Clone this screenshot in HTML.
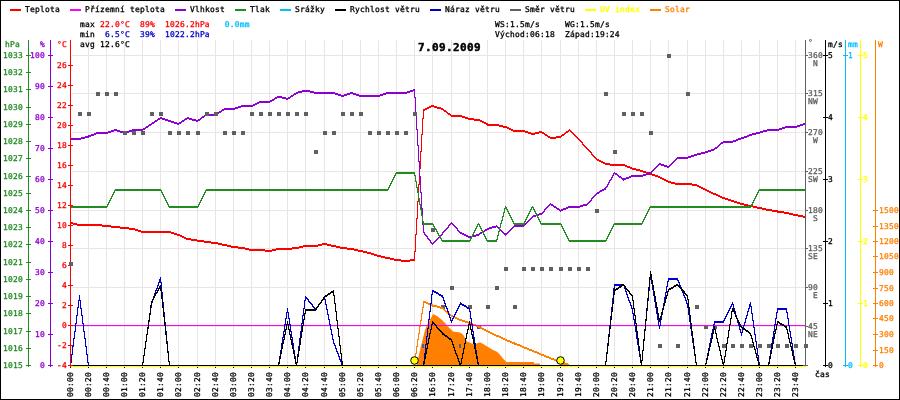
<!DOCTYPE html>
<html><head><meta charset="utf-8"><title>7.09.2009</title>
<style>html,body{margin:0;padding:0;background:#fff;}svg{display:block;will-change:transform}</style>
</head><body>
<svg width="900" height="400" viewBox="0 0 900 400">
<rect x="0" y="0" width="900" height="400" fill="#fff"/>
<g shape-rendering="crispEdges">
<rect x="88" y="40" width="1" height="325" fill="#ebe4e4"/>
<rect x="106" y="40" width="1" height="325" fill="#ebe4e4"/>
<rect x="124" y="40" width="1" height="325" fill="#ebe4e4"/>
<rect x="142" y="40" width="1" height="325" fill="#ebe4e4"/>
<rect x="160" y="40" width="1" height="325" fill="#ebe4e4"/>
<rect x="178" y="40" width="1" height="325" fill="#ebe4e4"/>
<rect x="197" y="40" width="1" height="325" fill="#ebe4e4"/>
<rect x="215" y="40" width="1" height="325" fill="#ebe4e4"/>
<rect x="233" y="40" width="1" height="325" fill="#ebe4e4"/>
<rect x="251" y="40" width="1" height="325" fill="#ebe4e4"/>
<rect x="269" y="40" width="1" height="325" fill="#ebe4e4"/>
<rect x="287" y="40" width="1" height="325" fill="#ebe4e4"/>
<rect x="305" y="40" width="1" height="325" fill="#ebe4e4"/>
<rect x="324" y="40" width="1" height="325" fill="#ebe4e4"/>
<rect x="342" y="40" width="1" height="325" fill="#ebe4e4"/>
<rect x="360" y="40" width="1" height="325" fill="#ebe4e4"/>
<rect x="378" y="40" width="1" height="325" fill="#ebe4e4"/>
<rect x="396" y="40" width="1" height="325" fill="#ebe4e4"/>
<rect x="414" y="40" width="1" height="325" fill="#ebe4e4"/>
<rect x="432" y="40" width="1" height="325" fill="#ebe4e4"/>
<rect x="451" y="40" width="1" height="325" fill="#ebe4e4"/>
<rect x="469" y="40" width="1" height="325" fill="#ebe4e4"/>
<rect x="487" y="40" width="1" height="325" fill="#ebe4e4"/>
<rect x="505" y="40" width="1" height="325" fill="#ebe4e4"/>
<rect x="523" y="40" width="1" height="325" fill="#ebe4e4"/>
<rect x="541" y="40" width="1" height="325" fill="#ebe4e4"/>
<rect x="560" y="40" width="1" height="325" fill="#ebe4e4"/>
<rect x="578" y="40" width="1" height="325" fill="#ebe4e4"/>
<rect x="596" y="40" width="1" height="325" fill="#ebe4e4"/>
<rect x="614" y="40" width="1" height="325" fill="#ebe4e4"/>
<rect x="632" y="40" width="1" height="325" fill="#ebe4e4"/>
<rect x="650" y="40" width="1" height="325" fill="#ebe4e4"/>
<rect x="668" y="40" width="1" height="325" fill="#ebe4e4"/>
<rect x="687" y="40" width="1" height="325" fill="#ebe4e4"/>
<rect x="705" y="40" width="1" height="325" fill="#ebe4e4"/>
<rect x="723" y="40" width="1" height="325" fill="#ebe4e4"/>
<rect x="741" y="40" width="1" height="325" fill="#ebe4e4"/>
<rect x="759" y="40" width="1" height="325" fill="#ebe4e4"/>
<rect x="777" y="40" width="1" height="325" fill="#ebe4e4"/>
<rect x="795" y="40" width="1" height="325" fill="#ebe4e4"/>
<rect x="72" y="55" width="733" height="1" fill="#ebe4e4"/>
<rect x="72" y="93" width="733" height="1" fill="#ebe4e4"/>
<rect x="72" y="132" width="733" height="1" fill="#ebe4e4"/>
<rect x="72" y="171" width="733" height="1" fill="#ebe4e4"/>
<rect x="72" y="210" width="733" height="1" fill="#ebe4e4"/>
<rect x="72" y="248" width="733" height="1" fill="#ebe4e4"/>
<rect x="72" y="287" width="733" height="1" fill="#ebe4e4"/>
<rect x="72" y="326" width="733" height="1" fill="#ebe4e4"/>
</g>
<polygon points="416.5,365.5 420.5,348 423,338 425,330 428,323 431,318 433,314 437,316 442,320 446,324 448,326.6 451,329.6 453,331.4 460,332.6 463,334.4 465,338 467,341.6 470,342.8 473,344 477,343.4 480,342.2 484,344.6 488,347 493,350 497,351.8 500,354.8 503,358.4 506,361.4 506,362 534,362 534,363.5 540,363.5 540,365.5" fill="#ff8000"/>
<polygon points="561,365 562,363.5 568,363.5 569,365" fill="#ff8000"/>
<path d="M70.5,222 79.5,224 79.5,225 70.5,223ZM70.5,223 79.5,225 79.5,226 70.5,224ZM79.5,224 88.5,224 88.5,225 79.5,225ZM79.5,225 88.5,225 88.5,226 79.5,226ZM88.5,224 97.5,224 97.5,225 88.5,225ZM88.5,225 97.5,225 97.5,226 88.5,226ZM97.5,224 106.5,225 106.5,226 97.5,225ZM97.5,225 106.5,226 106.5,227 97.5,226ZM106.5,225 115.5,226 115.5,227 106.5,226ZM106.5,226 115.5,227 115.5,228 106.5,227ZM115.5,226 124.5,227 124.5,228 115.5,227ZM115.5,227 124.5,228 124.5,229 115.5,228ZM124.5,227 133.5,228 133.5,229 124.5,228ZM124.5,228 133.5,229 133.5,230 124.5,229ZM133.5,228 142.5,231 142.5,232 133.5,229ZM133.5,229 142.5,232 142.5,233 133.5,230ZM142.5,231 151.5,231 151.5,232 142.5,232ZM142.5,232 151.5,232 151.5,233 142.5,233ZM151.5,231 160.5,231 160.5,232 151.5,232ZM151.5,232 160.5,232 160.5,233 151.5,233ZM160.5,231 169.5,231 169.5,232 160.5,232ZM160.5,232 169.5,232 169.5,233 160.5,233ZM169.5,231 178.5,234 178.5,235 169.5,232ZM169.5,232 178.5,235 178.5,236 169.5,233ZM178.5,234 187.5,238 187.5,239 178.5,235ZM178.5,235 187.5,239 187.5,240 178.5,236ZM187.5,238 197.5,239.5 197.5,240.5 187.5,239ZM187.5,239 197.5,240.5 197.5,241.5 187.5,240ZM197.5,239.5 206.5,241 206.5,242 197.5,240.5ZM197.5,240.5 206.5,242 206.5,243 197.5,241.5ZM206.5,241 215.5,242 215.5,243 206.5,242ZM206.5,242 215.5,243 215.5,244 206.5,243ZM215.5,242 224.5,244 224.5,245 215.5,243ZM215.5,243 224.5,245 224.5,246 215.5,244ZM224.5,244 233.5,246 233.5,247 224.5,245ZM224.5,245 233.5,247 233.5,248 224.5,246ZM233.5,246 242.5,247 242.5,248 233.5,247ZM233.5,247 242.5,248 242.5,249 233.5,248ZM242.5,247 251.5,249 251.5,250 242.5,248ZM242.5,248 251.5,250 251.5,251 242.5,249ZM251.5,249 260.5,249 260.5,250 251.5,250ZM251.5,250 260.5,250 260.5,251 251.5,251ZM260.5,249 269.5,250 269.5,251 260.5,250ZM260.5,250 269.5,251 269.5,252 260.5,251ZM269.5,250 278.5,248 278.5,249 269.5,251ZM269.5,251 278.5,249 278.5,250 269.5,252ZM278.5,248 287.5,248 287.5,249 278.5,249ZM278.5,249 287.5,249 287.5,250 278.5,250ZM287.5,248 296.5,247 296.5,248 287.5,249ZM287.5,249 296.5,248 296.5,249 287.5,250ZM296.5,247 305.5,245 305.5,246 296.5,248ZM296.5,248 305.5,246 305.5,247 296.5,249ZM305.5,245 315.5,245 315.5,246 305.5,246ZM305.5,246 315.5,246 315.5,247 305.5,247ZM315.5,245 324.5,243 324.5,244 315.5,246ZM315.5,246 324.5,244 324.5,245 315.5,247ZM324.5,243 333.5,245 333.5,246 324.5,244ZM324.5,244 333.5,246 333.5,247 324.5,245ZM333.5,245 342.5,247 342.5,248 333.5,246ZM333.5,246 342.5,248 342.5,249 333.5,247ZM342.5,247 351.5,248 351.5,249 342.5,248ZM342.5,248 351.5,249 351.5,250 342.5,249ZM351.5,248 360.5,250 360.5,251 351.5,249ZM351.5,249 360.5,251 360.5,252 351.5,250ZM360.5,250 369.5,252 369.5,253 360.5,251ZM360.5,251 369.5,253 369.5,254 360.5,252ZM369.5,252 378.5,255 378.5,256 369.5,253ZM369.5,253 378.5,256 378.5,257 369.5,254ZM378.5,255 387.5,257 387.5,258 378.5,256ZM378.5,256 387.5,258 387.5,259 378.5,257ZM387.5,257 396.5,259 396.5,260 387.5,258ZM387.5,258 396.5,260 396.5,261 387.5,259ZM396.5,259 405.5,260 405.5,261 396.5,260ZM396.5,260 405.5,261 405.5,262 396.5,261ZM405.5,260 414.5,259 414.5,260 405.5,261ZM405.5,261 414.5,260 414.5,261 405.5,262ZM414,259.5 423,109.5 424,109.5 415,259.5ZM414,260.5 423,110.5 424,110.5 415,260.5ZM423.5,109 432.5,105 432.5,106 423.5,110ZM423.5,110 432.5,106 432.5,107 423.5,111ZM432.5,105 442.5,108 442.5,109 432.5,106ZM432.5,106 442.5,109 442.5,110 432.5,107ZM442.5,108 451.5,115 451.5,116 442.5,109ZM442.5,109 451.5,116 451.5,117 442.5,110ZM451.5,115 460.5,115 460.5,116 451.5,116ZM451.5,116 460.5,116 460.5,117 451.5,117ZM460.5,115 469.5,118 469.5,119 460.5,116ZM460.5,116 469.5,119 469.5,120 460.5,117ZM469.5,118 478.5,119 478.5,120 469.5,119ZM469.5,119 478.5,120 478.5,121 469.5,120ZM478.5,119 487.5,123.5 487.5,124.5 478.5,120ZM478.5,120 487.5,124.5 487.5,125.5 478.5,121ZM487.5,123.5 496.5,124 496.5,125 487.5,124.5ZM487.5,124.5 496.5,125 496.5,126 487.5,125.5ZM496.5,124 505.5,126 505.5,127 496.5,125ZM496.5,125 505.5,127 505.5,128 496.5,126ZM505.5,126 514.5,130 514.5,131 505.5,127ZM505.5,127 514.5,131 514.5,132 505.5,128ZM514.5,130 523.5,130 523.5,131 514.5,131ZM514.5,131 523.5,131 523.5,132 514.5,132ZM523.5,130 532.5,133 532.5,134 523.5,131ZM523.5,131 532.5,134 532.5,135 523.5,132ZM532.5,133 541.5,131 541.5,132 532.5,134ZM532.5,134 541.5,132 541.5,133 532.5,135ZM541.5,131 550.5,137 550.5,138 541.5,132ZM541.5,132 550.5,138 550.5,139 541.5,133ZM550.5,137 560.5,136 560.5,137 550.5,138ZM550.5,138 560.5,137 560.5,138 550.5,139ZM560.5,136 569.5,129 569.5,130 560.5,137ZM560.5,137 569.5,130 569.5,131 560.5,138ZM569.5,129 578.5,138 578.5,139 569.5,130ZM569.5,130 578.5,139 578.5,140 569.5,131ZM579,138.5 588,148.5 587,148.5 578,138.5ZM579,139.5 588,149.5 587,149.5 578,139.5ZM588,148.5 597,158.5 596,158.5 587,148.5ZM588,149.5 597,159.5 596,159.5 587,149.5ZM596.5,158 605.5,163 605.5,164 596.5,159ZM596.5,159 605.5,164 605.5,165 596.5,160ZM605.5,163 614.5,164 614.5,165 605.5,164ZM605.5,164 614.5,165 614.5,166 605.5,165ZM614.5,164 623.5,164 623.5,165 614.5,165ZM614.5,165 623.5,165 623.5,166 614.5,166ZM623.5,164 632.5,167.5 632.5,168.5 623.5,165ZM623.5,165 632.5,168.5 632.5,169.5 623.5,166ZM632.5,167.5 641.5,170 641.5,171 632.5,168.5ZM632.5,168.5 641.5,171 641.5,172 632.5,169.5ZM641.5,170 650.5,173 650.5,174 641.5,171ZM641.5,171 650.5,174 650.5,175 641.5,172ZM650.5,173 659.5,176 659.5,177 650.5,174ZM650.5,174 659.5,177 659.5,178 650.5,175ZM659.5,176 668.5,181 668.5,182 659.5,177ZM659.5,177 668.5,182 668.5,183 659.5,178ZM668.5,181 677.5,183 677.5,184 668.5,182ZM668.5,182 677.5,184 677.5,185 668.5,183ZM677.5,183 687.5,183 687.5,184 677.5,184ZM677.5,184 687.5,184 687.5,185 677.5,185ZM687.5,183 696.5,184 696.5,185 687.5,184ZM687.5,184 696.5,185 696.5,186 687.5,185ZM696.5,184 705.5,189 705.5,190 696.5,185ZM696.5,185 705.5,190 705.5,191 696.5,186ZM705.5,189 714.5,193 714.5,194 705.5,190ZM705.5,190 714.5,194 714.5,195 705.5,191ZM714.5,193 723.5,197 723.5,198 714.5,194ZM714.5,194 723.5,198 723.5,199 714.5,195ZM723.5,197 732.5,200 732.5,201 723.5,198ZM723.5,198 732.5,201 732.5,202 723.5,199ZM732.5,200 741.5,203 741.5,204 732.5,201ZM732.5,201 741.5,204 741.5,205 732.5,202ZM741.5,203 750.5,205 750.5,206 741.5,204ZM741.5,204 750.5,206 750.5,207 741.5,205ZM750.5,205 759.5,207 759.5,208 750.5,206ZM750.5,206 759.5,208 759.5,209 750.5,207ZM759.5,207 768.5,209 768.5,210 759.5,208ZM759.5,208 768.5,210 768.5,211 759.5,209ZM768.5,209 777.5,210.5 777.5,211.5 768.5,210ZM768.5,210 777.5,211.5 777.5,212.5 768.5,211ZM777.5,210.5 786.5,212 786.5,213 777.5,211.5ZM777.5,211.5 786.5,213 786.5,214 777.5,212.5ZM786.5,212 795.5,214 795.5,215 786.5,213ZM786.5,213 795.5,215 795.5,216 786.5,214ZM795.5,214 805.5,216 805.5,217 795.5,215ZM795.5,215 805.5,217 805.5,218 795.5,216ZM70,222 71,222 71,224 70,224ZM79,224 80,224 80,226 79,226ZM88,224 89,224 89,226 88,226ZM97,224 98,224 98,226 97,226ZM106,225 107,225 107,227 106,227ZM115,226 116,226 116,228 115,228ZM124,227 125,227 125,229 124,229ZM133,228 134,228 134,230 133,230ZM142,231 143,231 143,233 142,233ZM151,231 152,231 152,233 151,233ZM160,231 161,231 161,233 160,233ZM169,231 170,231 170,233 169,233ZM178,234 179,234 179,236 178,236ZM187,238 188,238 188,240 187,240ZM197,239.5 198,239.5 198,241.5 197,241.5ZM206,241 207,241 207,243 206,243ZM215,242 216,242 216,244 215,244ZM224,244 225,244 225,246 224,246ZM233,246 234,246 234,248 233,248ZM242,247 243,247 243,249 242,249ZM251,249 252,249 252,251 251,251ZM260,249 261,249 261,251 260,251ZM269,250 270,250 270,252 269,252ZM278,248 279,248 279,250 278,250ZM287,248 288,248 288,250 287,250ZM296,247 297,247 297,249 296,249ZM305,245 306,245 306,247 305,247ZM315,245 316,245 316,247 315,247ZM324,243 325,243 325,245 324,245ZM333,245 334,245 334,247 333,247ZM342,247 343,247 343,249 342,249ZM351,248 352,248 352,250 351,250ZM360,250 361,250 361,252 360,252ZM369,252 370,252 370,254 369,254ZM378,255 379,255 379,257 378,257ZM387,257 388,257 388,259 387,259ZM396,259 397,259 397,261 396,261ZM405,260 406,260 406,262 405,262ZM414,259 415,259 415,261 414,261ZM423,109 424,109 424,111 423,111ZM432,105 433,105 433,107 432,107ZM442,108 443,108 443,110 442,110ZM451,115 452,115 452,117 451,117ZM460,115 461,115 461,117 460,117ZM469,118 470,118 470,120 469,120ZM478,119 479,119 479,121 478,121ZM487,123.5 488,123.5 488,125.5 487,125.5ZM496,124 497,124 497,126 496,126ZM505,126 506,126 506,128 505,128ZM514,130 515,130 515,132 514,132ZM523,130 524,130 524,132 523,132ZM532,133 533,133 533,135 532,135ZM541,131 542,131 542,133 541,133ZM550,137 551,137 551,139 550,139ZM560,136 561,136 561,138 560,138ZM569,129 570,129 570,131 569,131ZM578,138 579,138 579,140 578,140ZM587,148 588,148 588,150 587,150ZM596,158 597,158 597,160 596,160ZM605,163 606,163 606,165 605,165ZM614,164 615,164 615,166 614,166ZM623,164 624,164 624,166 623,166ZM632,167.5 633,167.5 633,169.5 632,169.5ZM641,170 642,170 642,172 641,172ZM650,173 651,173 651,175 650,175ZM659,176 660,176 660,178 659,178ZM668,181 669,181 669,183 668,183ZM677,183 678,183 678,185 677,185ZM687,183 688,183 688,185 687,185ZM696,184 697,184 697,186 696,186ZM705,189 706,189 706,191 705,191ZM714,193 715,193 715,195 714,195ZM723,197 724,197 724,199 723,199ZM732,200 733,200 733,202 732,202ZM741,203 742,203 742,205 741,205ZM750,205 751,205 751,207 750,207ZM759,207 760,207 760,209 759,209ZM768,209 769,209 769,211 768,211ZM777,210.5 778,210.5 778,212.5 777,212.5ZM786,212 787,212 787,214 786,214ZM795,214 796,214 796,216 795,216ZM805,216 806,216 806,218 805,218Z" fill="#ff0000" shape-rendering="crispEdges"/>
<path d="M70.5,138 79.5,138 79.5,139 70.5,139ZM70.5,139 79.5,139 79.5,140 70.5,140ZM79.5,138 88.5,135.5 88.5,136.5 79.5,139ZM79.5,139 88.5,136.5 88.5,137.5 79.5,140ZM88.5,135.5 97.5,132 97.5,133 88.5,136.5ZM88.5,136.5 97.5,133 97.5,134 88.5,137.5ZM97.5,132 106.5,132 106.5,133 97.5,133ZM97.5,133 106.5,133 106.5,134 97.5,134ZM106.5,132 115.5,129 115.5,130 106.5,133ZM106.5,133 115.5,130 115.5,131 106.5,134ZM115.5,129 124.5,132 124.5,133 115.5,130ZM115.5,130 124.5,133 124.5,134 115.5,131ZM124.5,132 133.5,129 133.5,130 124.5,133ZM124.5,133 133.5,130 133.5,131 124.5,134ZM133.5,129 142.5,129 142.5,130 133.5,130ZM133.5,130 142.5,130 142.5,131 133.5,131ZM142.5,129 151.5,123 151.5,124 142.5,130ZM142.5,130 151.5,124 151.5,125 142.5,131ZM151.5,123 160.5,117 160.5,118 151.5,124ZM151.5,124 160.5,118 160.5,119 151.5,125ZM160.5,117 169.5,120 169.5,121 160.5,118ZM160.5,118 169.5,121 169.5,122 160.5,119ZM169.5,120 178.5,123 178.5,124 169.5,121ZM169.5,121 178.5,124 178.5,125 169.5,122ZM178.5,123 187.5,117 187.5,118 178.5,124ZM178.5,124 187.5,118 187.5,119 178.5,125ZM187.5,117 197.5,120 197.5,121 187.5,118ZM187.5,118 197.5,121 197.5,122 187.5,119ZM197.5,120 206.5,113.5 206.5,114.5 197.5,121ZM197.5,121 206.5,114.5 206.5,115.5 197.5,122ZM206.5,113.5 215.5,114 215.5,115 206.5,114.5ZM206.5,114.5 215.5,115 215.5,116 206.5,115.5ZM215.5,114 224.5,108 224.5,109 215.5,115ZM215.5,115 224.5,109 224.5,110 215.5,116ZM224.5,108 233.5,108 233.5,109 224.5,109ZM224.5,109 233.5,109 233.5,110 224.5,110ZM233.5,108 242.5,105 242.5,106 233.5,109ZM233.5,109 242.5,106 242.5,107 233.5,110ZM242.5,105 251.5,105 251.5,106 242.5,106ZM242.5,106 251.5,106 251.5,107 242.5,107ZM251.5,105 260.5,101 260.5,102 251.5,106ZM251.5,106 260.5,102 260.5,103 251.5,107ZM260.5,101 269.5,101 269.5,102 260.5,102ZM260.5,102 269.5,102 269.5,103 260.5,103ZM269.5,101 278.5,95.5 278.5,96.5 269.5,102ZM269.5,102 278.5,96.5 278.5,97.5 269.5,103ZM278.5,95.5 287.5,98 287.5,99 278.5,96.5ZM278.5,96.5 287.5,99 287.5,100 278.5,97.5ZM287.5,98 296.5,92 296.5,93 287.5,99ZM287.5,99 296.5,93 296.5,94 287.5,100ZM296.5,92 305.5,89.5 305.5,90.5 296.5,93ZM296.5,93 305.5,90.5 305.5,91.5 296.5,94ZM305.5,89.5 315.5,92 315.5,93 305.5,90.5ZM305.5,90.5 315.5,93 315.5,94 305.5,91.5ZM315.5,92 324.5,92 324.5,93 315.5,93ZM315.5,93 324.5,93 324.5,94 315.5,94ZM324.5,92 333.5,92 333.5,93 324.5,93ZM324.5,93 333.5,93 333.5,94 324.5,94ZM333.5,92 342.5,95 342.5,96 333.5,93ZM333.5,93 342.5,96 342.5,97 333.5,94ZM342.5,95 351.5,92 351.5,93 342.5,96ZM342.5,96 351.5,93 351.5,94 342.5,97ZM351.5,92 360.5,95 360.5,96 351.5,93ZM351.5,93 360.5,96 360.5,97 351.5,94ZM360.5,95 369.5,95 369.5,96 360.5,96ZM360.5,96 369.5,96 369.5,97 360.5,97ZM369.5,95 378.5,95 378.5,96 369.5,96ZM369.5,96 378.5,96 378.5,97 369.5,97ZM378.5,95 387.5,92 387.5,93 378.5,96ZM378.5,96 387.5,93 387.5,94 378.5,97ZM387.5,92 396.5,92 396.5,93 387.5,93ZM387.5,93 396.5,93 396.5,94 387.5,94ZM396.5,92 405.5,92 405.5,93 396.5,93ZM396.5,93 405.5,93 405.5,94 396.5,94ZM405.5,92 414.5,89 414.5,90 405.5,93ZM405.5,93 414.5,90 414.5,91 405.5,94ZM415,89.5 424,231.5 423,231.5 414,89.5ZM415,90.5 424,232.5 423,232.5 414,90.5ZM424,231.5 433,243.9 432,243.9 423,231.5ZM424,232.5 433,244.9 432,244.9 423,232.5ZM432,243.9 442,233 443,233 433,243.9ZM432,244.9 442,234 443,234 433,244.9ZM442,233 451,222.4 452,222.4 443,233ZM442,234 451,223.4 452,223.4 443,234ZM452,222.4 461,232.25 460,232.25 451,222.4ZM452,223.4 461,233.25 460,233.25 451,223.4ZM460.5,231.75 469.5,236.25 469.5,237.25 460.5,232.75ZM460.5,232.75 469.5,237.25 469.5,238.25 460.5,233.75ZM469.5,236.25 478.5,233.75 478.5,234.75 469.5,237.25ZM469.5,237.25 478.5,234.75 478.5,235.75 469.5,238.25ZM478.5,233.75 487.5,228 487.5,229 478.5,234.75ZM478.5,234.75 487.5,229 487.5,230 478.5,235.75ZM487.5,228 496.5,225.25 496.5,226.25 487.5,229ZM487.5,229 496.5,226.25 496.5,227.25 487.5,230ZM496.5,225.25 505.5,233.5 505.5,234.5 496.5,226.25ZM496.5,226.25 505.5,234.5 505.5,235.5 496.5,227.25ZM505.5,233.5 514.5,224.7 514.5,225.7 505.5,234.5ZM505.5,234.5 514.5,225.7 514.5,226.7 505.5,235.5ZM514.5,224.7 523.5,224.7 523.5,225.7 514.5,225.7ZM514.5,225.7 523.5,225.7 523.5,226.7 514.5,226.7ZM523.5,224.7 532.5,215.7 532.5,216.7 523.5,225.7ZM523.5,225.7 532.5,216.7 532.5,217.7 523.5,226.7ZM532.5,215.7 541.5,212.7 541.5,213.7 532.5,216.7ZM532.5,216.7 541.5,213.7 541.5,214.7 532.5,217.7ZM541,213.2 550,203.7 551,203.7 542,213.2ZM541,214.2 550,204.7 551,204.7 542,214.2ZM550.5,203.2 560.5,209.7 560.5,210.7 550.5,204.2ZM550.5,204.2 560.5,210.7 560.5,211.7 550.5,205.2ZM560.5,209.7 569.5,206 569.5,207 560.5,210.7ZM560.5,210.7 569.5,207 569.5,208 560.5,211.7ZM569.5,206 578.5,206 578.5,207 569.5,207ZM569.5,207 578.5,207 578.5,208 569.5,208ZM578.5,206 587.5,203.2 587.5,204.2 578.5,207ZM578.5,207 587.5,204.2 587.5,205.2 578.5,208ZM587,203.7 596,193.2 597,193.2 588,203.7ZM587,204.7 596,194.2 597,194.2 588,204.7ZM596.5,192.7 605.5,187.7 605.5,188.7 596.5,193.7ZM596.5,193.7 605.5,188.7 605.5,189.7 596.5,194.7ZM605,188.2 614,172.5 615,172.5 606,188.2ZM605,189.2 614,173.5 615,173.5 606,189.2ZM614.5,172 623.5,178.5 623.5,179.5 614.5,173ZM614.5,173 623.5,179.5 623.5,180.5 614.5,174ZM623.5,178.5 632.5,175 632.5,176 623.5,179.5ZM623.5,179.5 632.5,176 632.5,177 623.5,180.5ZM632.5,175 641.5,175 641.5,176 632.5,176ZM632.5,176 641.5,176 641.5,177 632.5,177ZM641.5,175 650.5,172 650.5,173 641.5,176ZM641.5,176 650.5,173 650.5,174 641.5,177ZM650.5,172 659.5,163 659.5,164 650.5,173ZM650.5,173 659.5,164 659.5,165 650.5,174ZM659.5,163 668.5,166 668.5,167 659.5,164ZM659.5,164 668.5,167 668.5,168 659.5,165ZM668,166.5 677,157.1 678,157.1 669,166.5ZM668,167.5 677,158.1 678,158.1 669,167.5ZM677.5,156.6 687.5,156.6 687.5,157.6 677.5,157.6ZM677.5,157.6 687.5,157.6 687.5,158.6 677.5,158.6ZM687.5,156.6 696.5,153.7 696.5,154.7 687.5,157.6ZM687.5,157.6 696.5,154.7 696.5,155.7 687.5,158.6ZM696.5,153.7 705.5,151.4 705.5,152.4 696.5,154.7ZM696.5,154.7 705.5,152.4 705.5,153.4 696.5,155.7ZM705.5,151.4 714.5,148.3 714.5,149.3 705.5,152.4ZM705.5,152.4 714.5,149.3 714.5,150.3 705.5,153.4ZM714.5,148.3 723.5,140.7 723.5,141.7 714.5,149.3ZM714.5,149.3 723.5,141.7 723.5,142.7 714.5,150.3ZM723.5,140.7 732.5,140.7 732.5,141.7 723.5,141.7ZM723.5,141.7 732.5,141.7 732.5,142.7 723.5,142.7ZM732.5,140.7 741.5,137.4 741.5,138.4 732.5,141.7ZM732.5,141.7 741.5,138.4 741.5,139.4 732.5,142.7ZM741.5,137.4 750.5,134 750.5,135 741.5,138.4ZM741.5,138.4 750.5,135 750.5,136 741.5,139.4ZM750.5,134 759.5,131.7 759.5,132.7 750.5,135ZM750.5,135 759.5,132.7 759.5,133.7 750.5,136ZM759.5,131.7 768.5,129 768.5,130 759.5,132.7ZM759.5,132.7 768.5,130 768.5,131 759.5,133.7ZM768.5,129 777.5,129 777.5,130 768.5,130ZM768.5,130 777.5,130 777.5,131 768.5,131ZM777.5,129 786.5,126 786.5,127 777.5,130ZM777.5,130 786.5,127 786.5,128 777.5,131ZM786.5,126 795.5,126 795.5,127 786.5,127ZM786.5,127 795.5,127 795.5,128 786.5,128ZM795.5,126 805.5,122.7 805.5,123.7 795.5,127ZM795.5,127 805.5,123.7 805.5,124.7 795.5,128ZM70,138 71,138 71,140 70,140ZM79,138 80,138 80,140 79,140ZM88,135.5 89,135.5 89,137.5 88,137.5ZM97,132 98,132 98,134 97,134ZM106,132 107,132 107,134 106,134ZM115,129 116,129 116,131 115,131ZM124,132 125,132 125,134 124,134ZM133,129 134,129 134,131 133,131ZM142,129 143,129 143,131 142,131ZM151,123 152,123 152,125 151,125ZM160,117 161,117 161,119 160,119ZM169,120 170,120 170,122 169,122ZM178,123 179,123 179,125 178,125ZM187,117 188,117 188,119 187,119ZM197,120 198,120 198,122 197,122ZM206,113.5 207,113.5 207,115.5 206,115.5ZM215,114 216,114 216,116 215,116ZM224,108 225,108 225,110 224,110ZM233,108 234,108 234,110 233,110ZM242,105 243,105 243,107 242,107ZM251,105 252,105 252,107 251,107ZM260,101 261,101 261,103 260,103ZM269,101 270,101 270,103 269,103ZM278,95.5 279,95.5 279,97.5 278,97.5ZM287,98 288,98 288,100 287,100ZM296,92 297,92 297,94 296,94ZM305,89.5 306,89.5 306,91.5 305,91.5ZM315,92 316,92 316,94 315,94ZM324,92 325,92 325,94 324,94ZM333,92 334,92 334,94 333,94ZM342,95 343,95 343,97 342,97ZM351,92 352,92 352,94 351,94ZM360,95 361,95 361,97 360,97ZM369,95 370,95 370,97 369,97ZM378,95 379,95 379,97 378,97ZM387,92 388,92 388,94 387,94ZM396,92 397,92 397,94 396,94ZM405,92 406,92 406,94 405,94ZM414,89 415,89 415,91 414,91ZM423,231 424,231 424,233 423,233ZM432,243.4 433,243.4 433,245.4 432,245.4ZM442,232.5 443,232.5 443,234.5 442,234.5ZM451,221.9 452,221.9 452,223.9 451,223.9ZM460,231.75 461,231.75 461,233.75 460,233.75ZM469,236.25 470,236.25 470,238.25 469,238.25ZM478,233.75 479,233.75 479,235.75 478,235.75ZM487,228 488,228 488,230 487,230ZM496,225.25 497,225.25 497,227.25 496,227.25ZM505,233.5 506,233.5 506,235.5 505,235.5ZM514,224.7 515,224.7 515,226.7 514,226.7ZM523,224.7 524,224.7 524,226.7 523,226.7ZM532,215.7 533,215.7 533,217.7 532,217.7ZM541,212.7 542,212.7 542,214.7 541,214.7ZM550,203.2 551,203.2 551,205.2 550,205.2ZM560,209.7 561,209.7 561,211.7 560,211.7ZM569,206 570,206 570,208 569,208ZM578,206 579,206 579,208 578,208ZM587,203.2 588,203.2 588,205.2 587,205.2ZM596,192.7 597,192.7 597,194.7 596,194.7ZM605,187.7 606,187.7 606,189.7 605,189.7ZM614,172 615,172 615,174 614,174ZM623,178.5 624,178.5 624,180.5 623,180.5ZM632,175 633,175 633,177 632,177ZM641,175 642,175 642,177 641,177ZM650,172 651,172 651,174 650,174ZM659,163 660,163 660,165 659,165ZM668,166 669,166 669,168 668,168ZM677,156.6 678,156.6 678,158.6 677,158.6ZM687,156.6 688,156.6 688,158.6 687,158.6ZM696,153.7 697,153.7 697,155.7 696,155.7ZM705,151.4 706,151.4 706,153.4 705,153.4ZM714,148.3 715,148.3 715,150.3 714,150.3ZM723,140.7 724,140.7 724,142.7 723,142.7ZM732,140.7 733,140.7 733,142.7 732,142.7ZM741,137.4 742,137.4 742,139.4 741,139.4ZM750,134 751,134 751,136 750,136ZM759,131.7 760,131.7 760,133.7 759,133.7ZM768,129 769,129 769,131 768,131ZM777,129 778,129 778,131 777,131ZM786,126 787,126 787,128 786,128ZM795,126 796,126 796,128 795,128ZM805,122.7 806,122.7 806,124.7 805,124.7Z" fill="#8c00d2" shape-rendering="crispEdges"/>
<path d="M70.5,206 79.5,206 79.5,207 70.5,207ZM70.5,207 79.5,207 79.5,208 70.5,208ZM79.5,206 88.5,206 88.5,207 79.5,207ZM79.5,207 88.5,207 88.5,208 79.5,208ZM88.5,206 97.5,206 97.5,207 88.5,207ZM88.5,207 97.5,207 97.5,208 88.5,208ZM97.5,206 106.5,206 106.5,207 97.5,207ZM97.5,207 106.5,207 106.5,208 97.5,208ZM106,206.5 115,189.5 116,189.5 107,206.5ZM106,207.5 115,190.5 116,190.5 107,207.5ZM115.5,189 124.5,189 124.5,190 115.5,190ZM115.5,190 124.5,190 124.5,191 115.5,191ZM124.5,189 133.5,189 133.5,190 124.5,190ZM124.5,190 133.5,190 133.5,191 124.5,191ZM133.5,189 142.5,189 142.5,190 133.5,190ZM133.5,190 142.5,190 142.5,191 133.5,191ZM142.5,189 151.5,189 151.5,190 142.5,190ZM142.5,190 151.5,190 151.5,191 142.5,191ZM151.5,189 160.5,189 160.5,190 151.5,190ZM151.5,190 160.5,190 160.5,191 151.5,191ZM161,189.5 170,206.5 169,206.5 160,189.5ZM161,190.5 170,207.5 169,207.5 160,190.5ZM169.5,206 178.5,206 178.5,207 169.5,207ZM169.5,207 178.5,207 178.5,208 169.5,208ZM178.5,206 187.5,206 187.5,207 178.5,207ZM178.5,207 187.5,207 187.5,208 178.5,208ZM187.5,206 197.5,206 197.5,207 187.5,207ZM187.5,207 197.5,207 197.5,208 187.5,208ZM197,206.5 206,189.5 207,189.5 198,206.5ZM197,207.5 206,190.5 207,190.5 198,207.5ZM206.5,189 215.5,189 215.5,190 206.5,190ZM206.5,190 215.5,190 215.5,191 206.5,191ZM215.5,189 224.5,189 224.5,190 215.5,190ZM215.5,190 224.5,190 224.5,191 215.5,191ZM224.5,189 233.5,189 233.5,190 224.5,190ZM224.5,190 233.5,190 233.5,191 224.5,191ZM233.5,189 242.5,189 242.5,190 233.5,190ZM233.5,190 242.5,190 242.5,191 233.5,191ZM242.5,189 251.5,189 251.5,190 242.5,190ZM242.5,190 251.5,190 251.5,191 242.5,191ZM251.5,189 260.5,189 260.5,190 251.5,190ZM251.5,190 260.5,190 260.5,191 251.5,191ZM260.5,189 269.5,189 269.5,190 260.5,190ZM260.5,190 269.5,190 269.5,191 260.5,191ZM269.5,189 278.5,189 278.5,190 269.5,190ZM269.5,190 278.5,190 278.5,191 269.5,191ZM278.5,189 287.5,189 287.5,190 278.5,190ZM278.5,190 287.5,190 287.5,191 278.5,191ZM287.5,189 296.5,189 296.5,190 287.5,190ZM287.5,190 296.5,190 296.5,191 287.5,191ZM296.5,189 305.5,189 305.5,190 296.5,190ZM296.5,190 305.5,190 305.5,191 296.5,191ZM305.5,189 315.5,189 315.5,190 305.5,190ZM305.5,190 315.5,190 315.5,191 305.5,191ZM315.5,189 324.5,189 324.5,190 315.5,190ZM315.5,190 324.5,190 324.5,191 315.5,191ZM324.5,189 333.5,189 333.5,190 324.5,190ZM324.5,190 333.5,190 333.5,191 324.5,191ZM333.5,189 342.5,189 342.5,190 333.5,190ZM333.5,190 342.5,190 342.5,191 333.5,191ZM342.5,189 351.5,189 351.5,190 342.5,190ZM342.5,190 351.5,190 351.5,191 342.5,191ZM351.5,189 360.5,189 360.5,190 351.5,190ZM351.5,190 360.5,190 360.5,191 351.5,191ZM360.5,189 369.5,189 369.5,190 360.5,190ZM360.5,190 369.5,190 369.5,191 360.5,191ZM369.5,189 378.5,189 378.5,190 369.5,190ZM369.5,190 378.5,190 378.5,191 369.5,191ZM378.5,189 387.5,189 387.5,190 378.5,190ZM378.5,190 387.5,190 387.5,191 378.5,191ZM387,189.5 396,172.5 397,172.5 388,189.5ZM387,190.5 396,173.5 397,173.5 388,190.5ZM396.5,172 405.5,172 405.5,173 396.5,173ZM396.5,173 405.5,173 405.5,174 396.5,174ZM405.5,172 414.5,172 414.5,173 405.5,173ZM405.5,173 414.5,173 414.5,174 405.5,174ZM415,172.5 424,223.5 423,223.5 414,172.5ZM415,173.5 424,224.5 423,224.5 414,173.5ZM423.5,223 432.5,223 432.5,224 423.5,224ZM423.5,224 432.5,224 432.5,225 423.5,225ZM433,223.5 443,240.5 442,240.5 432,223.5ZM433,224.5 443,241.5 442,241.5 432,224.5ZM442.5,240 451.5,240 451.5,241 442.5,241ZM442.5,241 451.5,241 451.5,242 442.5,242ZM451.5,240 460.5,240 460.5,241 451.5,241ZM451.5,241 460.5,241 460.5,242 451.5,242ZM460.5,240 469.5,240 469.5,241 460.5,241ZM460.5,241 469.5,241 469.5,242 460.5,242ZM469,240.5 478,223.5 479,223.5 470,240.5ZM469,241.5 478,224.5 479,224.5 470,241.5ZM479,223.5 488,240.5 487,240.5 478,223.5ZM479,224.5 488,241.5 487,241.5 478,224.5ZM487.5,240 496.5,240 496.5,241 487.5,241ZM487.5,241 496.5,241 496.5,242 487.5,242ZM496,240.5 505,206.5 506,206.5 497,240.5ZM496,241.5 505,207.5 506,207.5 497,241.5ZM506,206.5 515,223.5 514,223.5 505,206.5ZM506,207.5 515,224.5 514,224.5 505,207.5ZM514.5,223 523.5,223 523.5,224 514.5,224ZM514.5,224 523.5,224 523.5,225 514.5,225ZM523,223.5 532,206.5 533,206.5 524,223.5ZM523,224.5 532,207.5 533,207.5 524,224.5ZM533,206.5 542,223.5 541,223.5 532,206.5ZM533,207.5 542,224.5 541,224.5 532,207.5ZM541.5,223 550.5,223 550.5,224 541.5,224ZM541.5,224 550.5,224 550.5,225 541.5,225ZM550.5,223 560.5,223 560.5,224 550.5,224ZM550.5,224 560.5,224 560.5,225 550.5,225ZM561,223.5 570,240.5 569,240.5 560,223.5ZM561,224.5 570,241.5 569,241.5 560,224.5ZM569.5,240 578.5,240 578.5,241 569.5,241ZM569.5,241 578.5,241 578.5,242 569.5,242ZM578.5,240 587.5,240 587.5,241 578.5,241ZM578.5,241 587.5,241 587.5,242 578.5,242ZM587.5,240 596.5,240 596.5,241 587.5,241ZM587.5,241 596.5,241 596.5,242 587.5,242ZM596.5,240 605.5,240 605.5,241 596.5,241ZM596.5,241 605.5,241 605.5,242 596.5,242ZM605,240.5 614,223.5 615,223.5 606,240.5ZM605,241.5 614,224.5 615,224.5 606,241.5ZM614.5,223 623.5,223 623.5,224 614.5,224ZM614.5,224 623.5,224 623.5,225 614.5,225ZM623.5,223 632.5,223 632.5,224 623.5,224ZM623.5,224 632.5,224 632.5,225 623.5,225ZM632.5,223 641.5,223 641.5,224 632.5,224ZM632.5,224 641.5,224 641.5,225 632.5,225ZM641,223.5 650,206.5 651,206.5 642,223.5ZM641,224.5 650,207.5 651,207.5 642,224.5ZM650.5,206 659.5,206 659.5,207 650.5,207ZM650.5,207 659.5,207 659.5,208 650.5,208ZM659.5,206 668.5,206 668.5,207 659.5,207ZM659.5,207 668.5,207 668.5,208 659.5,208ZM668.5,206 677.5,206 677.5,207 668.5,207ZM668.5,207 677.5,207 677.5,208 668.5,208ZM677.5,206 687.5,206 687.5,207 677.5,207ZM677.5,207 687.5,207 687.5,208 677.5,208ZM687.5,206 696.5,206 696.5,207 687.5,207ZM687.5,207 696.5,207 696.5,208 687.5,208ZM696.5,206 705.5,206 705.5,207 696.5,207ZM696.5,207 705.5,207 705.5,208 696.5,208ZM705.5,206 714.5,206 714.5,207 705.5,207ZM705.5,207 714.5,207 714.5,208 705.5,208ZM714.5,206 723.5,206 723.5,207 714.5,207ZM714.5,207 723.5,207 723.5,208 714.5,208ZM723.5,206 732.5,206 732.5,207 723.5,207ZM723.5,207 732.5,207 732.5,208 723.5,208ZM732.5,206 741.5,206 741.5,207 732.5,207ZM732.5,207 741.5,207 741.5,208 732.5,208ZM741.5,206 750.5,206 750.5,207 741.5,207ZM741.5,207 750.5,207 750.5,208 741.5,208ZM750,206.5 759,189.5 760,189.5 751,206.5ZM750,207.5 759,190.5 760,190.5 751,207.5ZM759.5,189 768.5,189 768.5,190 759.5,190ZM759.5,190 768.5,190 768.5,191 759.5,191ZM768.5,189 777.5,189 777.5,190 768.5,190ZM768.5,190 777.5,190 777.5,191 768.5,191ZM777.5,189 786.5,189 786.5,190 777.5,190ZM777.5,190 786.5,190 786.5,191 777.5,191ZM786.5,189 795.5,189 795.5,190 786.5,190ZM786.5,190 795.5,190 795.5,191 786.5,191ZM795.5,189 805.5,189 805.5,190 795.5,190ZM795.5,190 805.5,190 805.5,191 795.5,191ZM70,206 71,206 71,208 70,208ZM79,206 80,206 80,208 79,208ZM88,206 89,206 89,208 88,208ZM97,206 98,206 98,208 97,208ZM106,206 107,206 107,208 106,208ZM115,189 116,189 116,191 115,191ZM124,189 125,189 125,191 124,191ZM133,189 134,189 134,191 133,191ZM142,189 143,189 143,191 142,191ZM151,189 152,189 152,191 151,191ZM160,189 161,189 161,191 160,191ZM169,206 170,206 170,208 169,208ZM178,206 179,206 179,208 178,208ZM187,206 188,206 188,208 187,208ZM197,206 198,206 198,208 197,208ZM206,189 207,189 207,191 206,191ZM215,189 216,189 216,191 215,191ZM224,189 225,189 225,191 224,191ZM233,189 234,189 234,191 233,191ZM242,189 243,189 243,191 242,191ZM251,189 252,189 252,191 251,191ZM260,189 261,189 261,191 260,191ZM269,189 270,189 270,191 269,191ZM278,189 279,189 279,191 278,191ZM287,189 288,189 288,191 287,191ZM296,189 297,189 297,191 296,191ZM305,189 306,189 306,191 305,191ZM315,189 316,189 316,191 315,191ZM324,189 325,189 325,191 324,191ZM333,189 334,189 334,191 333,191ZM342,189 343,189 343,191 342,191ZM351,189 352,189 352,191 351,191ZM360,189 361,189 361,191 360,191ZM369,189 370,189 370,191 369,191ZM378,189 379,189 379,191 378,191ZM387,189 388,189 388,191 387,191ZM396,172 397,172 397,174 396,174ZM405,172 406,172 406,174 405,174ZM414,172 415,172 415,174 414,174ZM423,223 424,223 424,225 423,225ZM432,223 433,223 433,225 432,225ZM442,240 443,240 443,242 442,242ZM451,240 452,240 452,242 451,242ZM460,240 461,240 461,242 460,242ZM469,240 470,240 470,242 469,242ZM478,223 479,223 479,225 478,225ZM487,240 488,240 488,242 487,242ZM496,240 497,240 497,242 496,242ZM505,206 506,206 506,208 505,208ZM514,223 515,223 515,225 514,225ZM523,223 524,223 524,225 523,225ZM532,206 533,206 533,208 532,208ZM541,223 542,223 542,225 541,225ZM550,223 551,223 551,225 550,225ZM560,223 561,223 561,225 560,225ZM569,240 570,240 570,242 569,242ZM578,240 579,240 579,242 578,242ZM587,240 588,240 588,242 587,242ZM596,240 597,240 597,242 596,242ZM605,240 606,240 606,242 605,242ZM614,223 615,223 615,225 614,225ZM623,223 624,223 624,225 623,225ZM632,223 633,223 633,225 632,225ZM641,223 642,223 642,225 641,225ZM650,206 651,206 651,208 650,208ZM659,206 660,206 660,208 659,208ZM668,206 669,206 669,208 668,208ZM677,206 678,206 678,208 677,208ZM687,206 688,206 688,208 687,208ZM696,206 697,206 697,208 696,208ZM705,206 706,206 706,208 705,208ZM714,206 715,206 715,208 714,208ZM723,206 724,206 724,208 723,208ZM732,206 733,206 733,208 732,208ZM741,206 742,206 742,208 741,208ZM750,206 751,206 751,208 750,208ZM759,189 760,189 760,191 759,191ZM768,189 769,189 769,191 768,191ZM777,189 778,189 778,191 777,191ZM786,189 787,189 787,191 786,191ZM795,189 796,189 796,191 795,191ZM805,189 806,189 806,191 805,191Z" fill="#228b22" shape-rendering="crispEdges"/>
<g shape-rendering="crispEdges">
<rect x="78" y="112" width="4" height="4" fill="#606060"/>
<rect x="87" y="112" width="4" height="4" fill="#606060"/>
<rect x="96" y="92" width="4" height="4" fill="#606060"/>
<rect x="105" y="92" width="4" height="4" fill="#606060"/>
<rect x="114" y="92" width="4" height="4" fill="#606060"/>
<rect x="123" y="131" width="4" height="4" fill="#606060"/>
<rect x="132" y="131" width="4" height="4" fill="#606060"/>
<rect x="141" y="131" width="4" height="4" fill="#606060"/>
<rect x="150" y="112" width="4" height="4" fill="#606060"/>
<rect x="159" y="112" width="4" height="4" fill="#606060"/>
<rect x="168" y="131" width="4" height="4" fill="#606060"/>
<rect x="177" y="131" width="4" height="4" fill="#606060"/>
<rect x="186" y="131" width="4" height="4" fill="#606060"/>
<rect x="196" y="131" width="4" height="4" fill="#606060"/>
<rect x="205" y="112" width="4" height="4" fill="#606060"/>
<rect x="214" y="112" width="4" height="4" fill="#606060"/>
<rect x="223" y="131" width="4" height="4" fill="#606060"/>
<rect x="232" y="131" width="4" height="4" fill="#606060"/>
<rect x="241" y="131" width="4" height="4" fill="#606060"/>
<rect x="250" y="112" width="4" height="4" fill="#606060"/>
<rect x="259" y="112" width="4" height="4" fill="#606060"/>
<rect x="268" y="112" width="4" height="4" fill="#606060"/>
<rect x="277" y="112" width="4" height="4" fill="#606060"/>
<rect x="286" y="112" width="4" height="4" fill="#606060"/>
<rect x="295" y="112" width="4" height="4" fill="#606060"/>
<rect x="304" y="112" width="4" height="4" fill="#606060"/>
<rect x="314" y="150" width="4" height="4" fill="#606060"/>
<rect x="323" y="131" width="4" height="4" fill="#606060"/>
<rect x="332" y="131" width="4" height="4" fill="#606060"/>
<rect x="341" y="112" width="4" height="4" fill="#606060"/>
<rect x="350" y="112" width="4" height="4" fill="#606060"/>
<rect x="359" y="112" width="4" height="4" fill="#606060"/>
<rect x="368" y="131" width="4" height="4" fill="#606060"/>
<rect x="377" y="131" width="4" height="4" fill="#606060"/>
<rect x="386" y="131" width="4" height="4" fill="#606060"/>
<rect x="395" y="131" width="4" height="4" fill="#606060"/>
<rect x="404" y="131" width="4" height="4" fill="#606060"/>
<rect x="413" y="112" width="4" height="4" fill="#606060"/>
<rect x="431" y="228" width="4" height="4" fill="#606060"/>
<rect x="441" y="305" width="4" height="4" fill="#606060"/>
<rect x="450" y="286" width="4" height="4" fill="#606060"/>
<rect x="468" y="305" width="4" height="4" fill="#606060"/>
<rect x="477" y="325" width="4" height="4" fill="#606060"/>
<rect x="486" y="305" width="4" height="4" fill="#606060"/>
<rect x="495" y="286" width="4" height="4" fill="#606060"/>
<rect x="504" y="267" width="4" height="4" fill="#606060"/>
<rect x="513" y="305" width="4" height="4" fill="#606060"/>
<rect x="522" y="267" width="4" height="4" fill="#606060"/>
<rect x="531" y="267" width="4" height="4" fill="#606060"/>
<rect x="540" y="267" width="4" height="4" fill="#606060"/>
<rect x="549" y="267" width="4" height="4" fill="#606060"/>
<rect x="559" y="267" width="4" height="4" fill="#606060"/>
<rect x="568" y="267" width="4" height="4" fill="#606060"/>
<rect x="577" y="267" width="4" height="4" fill="#606060"/>
<rect x="586" y="267" width="4" height="4" fill="#606060"/>
<rect x="595" y="209" width="4" height="4" fill="#606060"/>
<rect x="604" y="92" width="4" height="4" fill="#606060"/>
<rect x="613" y="150" width="4" height="4" fill="#606060"/>
<rect x="622" y="112" width="4" height="4" fill="#606060"/>
<rect x="631" y="112" width="4" height="4" fill="#606060"/>
<rect x="640" y="112" width="4" height="4" fill="#606060"/>
<rect x="649" y="131" width="4" height="4" fill="#606060"/>
<rect x="658" y="344" width="4" height="4" fill="#606060"/>
<rect x="667" y="54" width="4" height="4" fill="#606060"/>
<rect x="676" y="344" width="4" height="4" fill="#606060"/>
<rect x="686" y="92" width="4" height="4" fill="#606060"/>
<rect x="695" y="305" width="4" height="4" fill="#606060"/>
<rect x="704" y="325" width="4" height="4" fill="#606060"/>
<rect x="713" y="325" width="4" height="4" fill="#606060"/>
<rect x="722" y="344" width="4" height="4" fill="#606060"/>
<rect x="731" y="344" width="4" height="4" fill="#606060"/>
<rect x="740" y="344" width="4" height="4" fill="#606060"/>
<rect x="749" y="344" width="4" height="4" fill="#606060"/>
<rect x="758" y="344" width="4" height="4" fill="#606060"/>
<rect x="767" y="344" width="4" height="4" fill="#606060"/>
<rect x="776" y="344" width="4" height="4" fill="#606060"/>
<rect x="785" y="344" width="4" height="4" fill="#606060"/>
<rect x="794" y="344" width="4" height="4" fill="#606060"/>
<rect x="804" y="344" width="4" height="4" fill="#606060"/>
</g>
<path d="M414.3,360.5 423.39,301 424.39,301 415.3,360.5ZM414.3,361.5 423.39,302 424.39,302 415.3,361.5ZM423.89,300.5 432.96,304.5 432.96,305.5 423.89,301.5ZM423.89,301.5 432.96,305.5 432.96,306.5 423.89,302.5ZM432.96,304.5 442.04,307 442.04,308 432.96,305.5ZM432.96,305.5 442.04,308 442.04,309 432.96,306.5ZM442.04,307 451.11,314.5 451.11,315.5 442.04,308ZM442.04,308 451.11,315.5 451.11,316.5 442.04,309ZM451.11,314.5 460.19,319 460.19,320 451.11,315.5ZM451.11,315.5 460.19,320 460.19,321 451.11,316.5ZM460.19,319 469.26,321.8 469.26,322.8 460.19,320ZM460.19,320 469.26,322.8 469.26,323.8 460.19,321ZM469.26,321.8 478.33,325.5 478.33,326.5 469.26,322.8ZM469.26,322.8 478.33,326.5 478.33,327.5 469.26,323.8ZM478.33,325.5 487.41,330 487.41,331 478.33,326.5ZM478.33,326.5 487.41,331 487.41,332 478.33,327.5ZM487.41,330 496.48,334.5 496.48,335.5 487.41,331ZM487.41,331 496.48,335.5 496.48,336.5 487.41,332ZM496.48,334.5 505.56,338.7 505.56,339.7 496.48,335.5ZM496.48,335.5 505.56,339.7 505.56,340.7 496.48,336.5ZM505.56,338.7 514.63,342.5 514.63,343.5 505.56,339.7ZM505.56,339.7 514.63,343.5 514.63,344.5 505.56,340.7ZM514.63,342.5 523.7,346.2 523.7,347.2 514.63,343.5ZM514.63,343.5 523.7,347.2 523.7,348.2 514.63,344.5ZM523.7,346.2 532.78,349.9 532.78,350.9 523.7,347.2ZM523.7,347.2 532.78,350.9 532.78,351.9 523.7,348.2ZM532.78,349.9 541.85,353.7 541.85,354.7 532.78,350.9ZM532.78,350.9 541.85,354.7 541.85,355.7 532.78,351.9ZM541.85,353.7 550.93,357.4 550.93,358.4 541.85,354.7ZM541.85,354.7 550.93,358.4 550.93,359.4 541.85,355.7ZM550.93,357.4 560,361.1 560,362.1 550.93,358.4ZM550.93,358.4 560,362.1 560,363.1 550.93,359.4ZM560,361.1 568,363.5 568,364.5 560,362.1ZM560,362.1 568,364.5 568,365.5 560,363.1ZM414.3,360 415.3,360 415.3,362 414.3,362ZM423.39,300.5 424.39,300.5 424.39,302.5 423.39,302.5ZM432.46,304.5 433.46,304.5 433.46,306.5 432.46,306.5ZM441.54,307 442.54,307 442.54,309 441.54,309ZM450.61,314.5 451.61,314.5 451.61,316.5 450.61,316.5ZM459.69,319 460.69,319 460.69,321 459.69,321ZM468.76,321.8 469.76,321.8 469.76,323.8 468.76,323.8ZM477.83,325.5 478.83,325.5 478.83,327.5 477.83,327.5ZM486.91,330 487.91,330 487.91,332 486.91,332ZM495.98,334.5 496.98,334.5 496.98,336.5 495.98,336.5ZM505.06,338.7 506.06,338.7 506.06,340.7 505.06,340.7ZM514.13,342.5 515.13,342.5 515.13,344.5 514.13,344.5ZM523.2,346.2 524.2,346.2 524.2,348.2 523.2,348.2ZM532.28,349.9 533.28,349.9 533.28,351.9 532.28,351.9ZM541.35,353.7 542.35,353.7 542.35,355.7 541.35,355.7ZM550.43,357.4 551.43,357.4 551.43,359.4 550.43,359.4ZM559.5,361.1 560.5,361.1 560.5,363.1 559.5,363.1ZM567.5,363.5 568.5,363.5 568.5,365.5 567.5,365.5Z" fill="#ff8000" shape-rendering="crispEdges"/>
<g shape-rendering="crispEdges">
<rect x="70" y="325" width="735" height="1" fill="#ff00ff"/>
<rect x="422" y="344" width="2" height="4" fill="#50627a"/>
<rect x="459" y="344" width="2" height="4" fill="#50627a"/>
</g>
<path d="M70,365.5 79,295.8 80,295.8 71,365.5ZM70,366.5 79,296.8 80,296.8 71,366.5ZM80,295.8 89,365.5 88,365.5 79,295.8ZM80,296.8 89,366.5 88,366.5 79,296.8ZM88.5,365 97.5,365 97.5,366 88.5,366ZM88.5,366 97.5,366 97.5,367 88.5,367ZM97.5,365 106.5,365 106.5,366 97.5,366ZM97.5,366 106.5,366 106.5,367 97.5,367ZM106.5,365 115.5,365 115.5,366 106.5,366ZM106.5,366 115.5,366 115.5,367 106.5,367ZM115.5,365 124.5,365 124.5,366 115.5,366ZM115.5,366 124.5,366 124.5,367 115.5,367ZM124.5,365 133.5,365 133.5,366 124.5,366ZM124.5,366 133.5,366 133.5,367 124.5,367ZM133.5,365 142.5,365 142.5,366 133.5,366ZM133.5,366 142.5,366 142.5,367 133.5,367ZM142,365.5 151,303.5 152,303.5 143,365.5ZM142,366.5 151,304.5 152,304.5 143,366.5ZM151,303.5 160,277.5 161,277.5 152,303.5ZM151,304.5 160,278.5 161,278.5 152,304.5ZM161,277.5 170,365.5 169,365.5 160,277.5ZM161,278.5 170,366.5 169,366.5 160,278.5ZM169.5,365 178.5,365 178.5,366 169.5,366ZM169.5,366 178.5,366 178.5,367 169.5,367ZM178.5,365 187.5,365 187.5,366 178.5,366ZM178.5,366 187.5,366 187.5,367 178.5,367ZM187.5,365 197.5,365 197.5,366 187.5,366ZM187.5,366 197.5,366 197.5,367 187.5,367ZM197.5,365 206.5,365 206.5,366 197.5,366ZM197.5,366 206.5,366 206.5,367 197.5,367ZM206.5,365 215.5,365 215.5,366 206.5,366ZM206.5,366 215.5,366 215.5,367 206.5,367ZM215.5,365 224.5,365 224.5,366 215.5,366ZM215.5,366 224.5,366 224.5,367 215.5,367ZM224.5,365 233.5,365 233.5,366 224.5,366ZM224.5,366 233.5,366 233.5,367 224.5,367ZM233.5,365 242.5,365 242.5,366 233.5,366ZM233.5,366 242.5,366 242.5,367 233.5,367ZM242.5,365 251.5,365 251.5,366 242.5,366ZM242.5,366 251.5,366 251.5,367 242.5,367ZM251.5,365 260.5,365 260.5,366 251.5,366ZM251.5,366 260.5,366 260.5,367 251.5,367ZM260.5,365 269.5,365 269.5,366 260.5,366ZM260.5,366 269.5,366 269.5,367 260.5,367ZM269.5,365 278.5,365 278.5,366 269.5,366ZM269.5,366 278.5,366 278.5,367 269.5,367ZM278,365.5 287,308.5 288,308.5 279,365.5ZM278,366.5 287,309.5 288,309.5 279,366.5ZM288,308.5 297,365.5 296,365.5 287,308.5ZM288,309.5 297,366.5 296,366.5 287,309.5ZM296,365.5 305,296.1 306,296.1 297,365.5ZM296,366.5 305,297.1 306,297.1 297,366.5ZM306,296.1 316,308.9 315,308.9 305,296.1ZM306,297.1 316,309.9 315,309.9 305,297.1ZM315,308.9 324,296.9 325,296.9 316,308.9ZM315,309.9 324,297.9 325,297.9 316,309.9ZM325,296.9 334,341.5 333,341.5 324,296.9ZM325,297.9 334,342.5 333,342.5 324,297.9ZM334,341.5 343,365.5 342,365.5 333,341.5ZM334,342.5 343,366.5 342,366.5 333,342.5ZM342.5,365 351.5,365 351.5,366 342.5,366ZM342.5,366 351.5,366 351.5,367 342.5,367ZM351.5,365 360.5,365 360.5,366 351.5,366ZM351.5,366 360.5,366 360.5,367 351.5,367ZM360.5,365 369.5,365 369.5,366 360.5,366ZM360.5,366 369.5,366 369.5,367 360.5,367ZM369.5,365 378.5,365 378.5,366 369.5,366ZM369.5,366 378.5,366 378.5,367 369.5,367ZM378.5,365 387.5,365 387.5,366 378.5,366ZM378.5,366 387.5,366 387.5,367 378.5,367ZM387.5,365 396.5,365 396.5,366 387.5,366ZM387.5,366 396.5,366 396.5,367 387.5,367ZM396.5,365 405.5,365 405.5,366 396.5,366ZM396.5,366 405.5,366 405.5,367 396.5,367ZM405.5,365 414.5,365 414.5,366 405.5,366ZM405.5,366 414.5,366 414.5,367 405.5,367ZM414.5,365 423.5,365 423.5,366 414.5,366ZM414.5,366 423.5,366 423.5,367 414.5,367ZM423,365.5 432,290.1 433,290.1 424,365.5ZM423,366.5 432,291.1 433,291.1 424,366.5ZM432.5,289.6 442.5,295.2 442.5,296.2 432.5,290.6ZM432.5,290.6 442.5,296.2 442.5,297.2 432.5,291.6ZM443,295.7 452,321.2 451,321.2 442,295.7ZM443,296.7 452,322.2 451,322.2 442,296.7ZM451,321.2 460,302.9 461,302.9 452,321.2ZM451,322.2 460,303.9 461,303.9 452,322.2ZM460.5,302.4 469.5,307.8 469.5,308.8 460.5,303.4ZM460.5,303.4 469.5,308.8 469.5,309.8 460.5,304.4ZM470,308.3 479,365.5 478,365.5 469,308.3ZM470,309.3 479,366.5 478,366.5 469,309.3ZM478.5,365 487.5,365 487.5,366 478.5,366ZM478.5,366 487.5,366 487.5,367 478.5,367ZM487.5,365 496.5,365 496.5,366 487.5,366ZM487.5,366 496.5,366 496.5,367 487.5,367ZM496.5,365 505.5,365 505.5,366 496.5,366ZM496.5,366 505.5,366 505.5,367 496.5,367ZM505.5,365 514.5,365 514.5,366 505.5,366ZM505.5,366 514.5,366 514.5,367 505.5,367ZM514.5,365 523.5,365 523.5,366 514.5,366ZM514.5,366 523.5,366 523.5,367 514.5,367ZM523.5,365 532.5,365 532.5,366 523.5,366ZM523.5,366 532.5,366 532.5,367 523.5,367ZM532.5,365 541.5,365 541.5,366 532.5,366ZM532.5,366 541.5,366 541.5,367 532.5,367ZM541.5,365 550.5,365 550.5,366 541.5,366ZM541.5,366 550.5,366 550.5,367 541.5,367ZM550.5,365 560.5,365 560.5,366 550.5,366ZM550.5,366 560.5,366 560.5,367 550.5,367ZM560.5,365 569.5,365 569.5,366 560.5,366ZM560.5,366 569.5,366 569.5,367 560.5,367ZM569.5,365 578.5,365 578.5,366 569.5,366ZM569.5,366 578.5,366 578.5,367 569.5,367ZM578.5,365 587.5,365 587.5,366 578.5,366ZM578.5,366 587.5,366 587.5,367 578.5,367ZM587.5,365 596.5,365 596.5,366 587.5,366ZM587.5,366 596.5,366 596.5,367 587.5,367ZM596.5,365 605.5,365 605.5,366 596.5,366ZM596.5,366 605.5,366 605.5,367 596.5,367ZM605,365.5 614,284 615,284 606,365.5ZM605,366.5 614,285 615,285 606,366.5ZM614.5,283.5 623.5,283.5 623.5,284.5 614.5,284.5ZM614.5,284.5 623.5,284.5 623.5,285.5 614.5,285.5ZM624,284 633,309.5 632,309.5 623,284ZM624,285 633,310.5 632,310.5 623,285ZM633,309.5 642,365.5 641,365.5 632,309.5ZM633,310.5 642,366.5 641,366.5 632,310.5ZM641,365.5 650,274.5 651,274.5 642,365.5ZM641,366.5 650,275.5 651,275.5 642,366.5ZM651,274.5 660,327.5 659,327.5 650,274.5ZM651,275.5 660,328.5 659,328.5 650,275.5ZM659,327.5 668,278.3 669,278.3 660,327.5ZM659,328.5 668,279.3 669,279.3 660,328.5ZM668.5,277.8 677.5,277.8 677.5,278.8 668.5,278.8ZM668.5,278.8 677.5,278.8 677.5,279.8 668.5,279.8ZM678,278.3 688,303.9 687,303.9 677,278.3ZM678,279.3 688,304.9 687,304.9 677,279.3ZM688,303.9 697,365.5 696,365.5 687,303.9ZM688,304.9 697,366.5 696,366.5 687,304.9ZM696.5,365 705.5,365 705.5,366 696.5,366ZM696.5,366 705.5,366 705.5,367 696.5,367ZM705,365.5 714,321.2 715,321.2 706,365.5ZM705,366.5 714,322.2 715,322.2 706,366.5ZM714.5,320.7 723.5,320.7 723.5,321.7 714.5,321.7ZM714.5,321.7 723.5,321.7 723.5,322.7 714.5,322.7ZM723,321.2 732,302.7 733,302.7 724,321.2ZM723,322.2 732,303.7 733,303.7 724,322.2ZM733,302.7 742,334.2 741,334.2 732,302.7ZM733,303.7 742,335.2 741,335.2 732,303.7ZM741,334.2 750,302.7 751,302.7 742,334.2ZM741,335.2 750,303.7 751,303.7 742,335.2ZM751,302.7 760,365.5 759,365.5 750,302.7ZM751,303.7 760,366.5 759,366.5 750,303.7ZM759.5,365 768.5,365 768.5,366 759.5,366ZM759.5,366 768.5,366 768.5,367 759.5,367ZM768,365.5 777,308.8 778,308.8 769,365.5ZM768,366.5 777,309.8 778,309.8 769,366.5ZM777.5,308.3 786.5,308.3 786.5,309.3 777.5,309.3ZM777.5,309.3 786.5,309.3 786.5,310.3 777.5,310.3ZM787,308.8 796,365.5 795,365.5 786,308.8ZM787,309.8 796,366.5 795,366.5 786,309.8ZM795.5,365 805.5,365 805.5,366 795.5,366ZM795.5,366 805.5,366 805.5,367 795.5,367ZM70,365 71,365 71,367 70,367ZM79,295.3 80,295.3 80,297.3 79,297.3ZM88,365 89,365 89,367 88,367ZM97,365 98,365 98,367 97,367ZM106,365 107,365 107,367 106,367ZM115,365 116,365 116,367 115,367ZM124,365 125,365 125,367 124,367ZM133,365 134,365 134,367 133,367ZM142,365 143,365 143,367 142,367ZM151,303 152,303 152,305 151,305ZM160,277 161,277 161,279 160,279ZM169,365 170,365 170,367 169,367ZM178,365 179,365 179,367 178,367ZM187,365 188,365 188,367 187,367ZM197,365 198,365 198,367 197,367ZM206,365 207,365 207,367 206,367ZM215,365 216,365 216,367 215,367ZM224,365 225,365 225,367 224,367ZM233,365 234,365 234,367 233,367ZM242,365 243,365 243,367 242,367ZM251,365 252,365 252,367 251,367ZM260,365 261,365 261,367 260,367ZM269,365 270,365 270,367 269,367ZM278,365 279,365 279,367 278,367ZM287,308 288,308 288,310 287,310ZM296,365 297,365 297,367 296,367ZM305,295.6 306,295.6 306,297.6 305,297.6ZM315,308.4 316,308.4 316,310.4 315,310.4ZM324,296.4 325,296.4 325,298.4 324,298.4ZM333,341 334,341 334,343 333,343ZM342,365 343,365 343,367 342,367ZM351,365 352,365 352,367 351,367ZM360,365 361,365 361,367 360,367ZM369,365 370,365 370,367 369,367ZM378,365 379,365 379,367 378,367ZM387,365 388,365 388,367 387,367ZM396,365 397,365 397,367 396,367ZM405,365 406,365 406,367 405,367ZM414,365 415,365 415,367 414,367ZM423,365 424,365 424,367 423,367ZM432,289.6 433,289.6 433,291.6 432,291.6ZM442,295.2 443,295.2 443,297.2 442,297.2ZM451,320.7 452,320.7 452,322.7 451,322.7ZM460,302.4 461,302.4 461,304.4 460,304.4ZM469,307.8 470,307.8 470,309.8 469,309.8ZM478,365 479,365 479,367 478,367ZM487,365 488,365 488,367 487,367ZM496,365 497,365 497,367 496,367ZM505,365 506,365 506,367 505,367ZM514,365 515,365 515,367 514,367ZM523,365 524,365 524,367 523,367ZM532,365 533,365 533,367 532,367ZM541,365 542,365 542,367 541,367ZM550,365 551,365 551,367 550,367ZM560,365 561,365 561,367 560,367ZM569,365 570,365 570,367 569,367ZM578,365 579,365 579,367 578,367ZM587,365 588,365 588,367 587,367ZM596,365 597,365 597,367 596,367ZM605,365 606,365 606,367 605,367ZM614,283.5 615,283.5 615,285.5 614,285.5ZM623,283.5 624,283.5 624,285.5 623,285.5ZM632,309 633,309 633,311 632,311ZM641,365 642,365 642,367 641,367ZM650,274 651,274 651,276 650,276ZM659,327 660,327 660,329 659,329ZM668,277.8 669,277.8 669,279.8 668,279.8ZM677,277.8 678,277.8 678,279.8 677,279.8ZM687,303.4 688,303.4 688,305.4 687,305.4ZM696,365 697,365 697,367 696,367ZM705,365 706,365 706,367 705,367ZM714,320.7 715,320.7 715,322.7 714,322.7ZM723,320.7 724,320.7 724,322.7 723,322.7ZM732,302.2 733,302.2 733,304.2 732,304.2ZM741,333.7 742,333.7 742,335.7 741,335.7ZM750,302.2 751,302.2 751,304.2 750,304.2ZM759,365 760,365 760,367 759,367ZM768,365 769,365 769,367 768,367ZM777,308.3 778,308.3 778,310.3 777,310.3ZM786,308.3 787,308.3 787,310.3 786,310.3ZM795,365 796,365 796,367 795,367ZM805,365 806,365 806,367 805,367Z" fill="#0000cc" shape-rendering="crispEdges"/>
<path d="M70.5,365 79.5,365 79.5,366 70.5,366ZM70.5,366 79.5,366 79.5,367 70.5,367ZM79.5,365 88.5,365 88.5,366 79.5,366ZM79.5,366 88.5,366 88.5,367 79.5,367ZM88.5,365 97.5,365 97.5,366 88.5,366ZM88.5,366 97.5,366 97.5,367 88.5,367ZM97.5,365 106.5,365 106.5,366 97.5,366ZM97.5,366 106.5,366 106.5,367 97.5,367ZM106.5,365 115.5,365 115.5,366 106.5,366ZM106.5,366 115.5,366 115.5,367 106.5,367ZM115.5,365 124.5,365 124.5,366 115.5,366ZM115.5,366 124.5,366 124.5,367 115.5,367ZM124.5,365 133.5,365 133.5,366 124.5,366ZM124.5,366 133.5,366 133.5,367 124.5,367ZM133.5,365 142.5,365 142.5,366 133.5,366ZM133.5,366 142.5,366 142.5,367 133.5,367ZM142,365.5 151,302 152,302 143,365.5ZM142,366.5 151,303 152,303 143,366.5ZM151,302 160,285 161,285 152,302ZM151,303 160,286 161,286 152,303ZM161,285 170,365.5 169,365.5 160,285ZM161,286 170,366.5 169,366.5 160,286ZM169.5,365 178.5,365 178.5,366 169.5,366ZM169.5,366 178.5,366 178.5,367 169.5,367ZM178.5,365 187.5,365 187.5,366 178.5,366ZM178.5,366 187.5,366 187.5,367 178.5,367ZM187.5,365 197.5,365 197.5,366 187.5,366ZM187.5,366 197.5,366 197.5,367 187.5,367ZM197.5,365 206.5,365 206.5,366 197.5,366ZM197.5,366 206.5,366 206.5,367 197.5,367ZM206.5,365 215.5,365 215.5,366 206.5,366ZM206.5,366 215.5,366 215.5,367 206.5,367ZM215.5,365 224.5,365 224.5,366 215.5,366ZM215.5,366 224.5,366 224.5,367 215.5,367ZM224.5,365 233.5,365 233.5,366 224.5,366ZM224.5,366 233.5,366 233.5,367 224.5,367ZM233.5,365 242.5,365 242.5,366 233.5,366ZM233.5,366 242.5,366 242.5,367 233.5,367ZM242.5,365 251.5,365 251.5,366 242.5,366ZM242.5,366 251.5,366 251.5,367 242.5,367ZM251.5,365 260.5,365 260.5,366 251.5,366ZM251.5,366 260.5,366 260.5,367 251.5,367ZM260.5,365 269.5,365 269.5,366 260.5,366ZM260.5,366 269.5,366 269.5,367 260.5,367ZM269.5,365 278.5,365 278.5,366 269.5,366ZM269.5,366 278.5,366 278.5,367 269.5,367ZM278,365.5 287,321.5 288,321.5 279,365.5ZM278,366.5 287,322.5 288,322.5 279,366.5ZM288,321.5 297,365.5 296,365.5 287,321.5ZM288,322.5 297,366.5 296,366.5 287,322.5ZM296,365.5 305,309.5 306,309.5 297,365.5ZM296,366.5 305,310.5 306,310.5 297,366.5ZM305.5,309 315.5,309 315.5,310 305.5,310ZM305.5,310 315.5,310 315.5,311 305.5,311ZM315,309.5 324,296.5 325,296.5 316,309.5ZM315,310.5 324,297.5 325,297.5 316,310.5ZM324.5,296 333.5,290 333.5,291 324.5,297ZM324.5,297 333.5,291 333.5,292 324.5,298ZM334,290.5 343,365.5 342,365.5 333,290.5ZM334,291.5 343,366.5 342,366.5 333,291.5ZM342.5,365 351.5,365 351.5,366 342.5,366ZM342.5,366 351.5,366 351.5,367 342.5,367ZM351.5,365 360.5,365 360.5,366 351.5,366ZM351.5,366 360.5,366 360.5,367 351.5,367ZM360.5,365 369.5,365 369.5,366 360.5,366ZM360.5,366 369.5,366 369.5,367 360.5,367ZM369.5,365 378.5,365 378.5,366 369.5,366ZM369.5,366 378.5,366 378.5,367 369.5,367ZM378.5,365 387.5,365 387.5,366 378.5,366ZM378.5,366 387.5,366 387.5,367 378.5,367ZM387.5,365 396.5,365 396.5,366 387.5,366ZM387.5,366 396.5,366 396.5,367 387.5,367ZM396.5,365 405.5,365 405.5,366 396.5,366ZM396.5,366 405.5,366 405.5,367 396.5,367ZM405.5,365 414.5,365 414.5,366 405.5,366ZM405.5,366 414.5,366 414.5,367 405.5,367ZM414.5,365 423.5,365 423.5,366 414.5,366ZM414.5,366 423.5,366 423.5,367 414.5,367ZM423,365.5 432,321.2 433,321.2 424,365.5ZM423,366.5 432,322.2 433,322.2 424,366.5ZM433,321.2 443,333 442,333 432,321.2ZM433,322.2 443,334 442,334 432,322.2ZM442.5,332.5 451.5,339 451.5,340 442.5,333.5ZM442.5,333.5 451.5,340 451.5,341 442.5,334.5ZM452,339.5 461,365.5 460,365.5 451,339.5ZM452,340.5 461,366.5 460,366.5 451,340.5ZM460,365.5 469,321.2 470,321.2 461,365.5ZM460,366.5 469,322.2 470,322.2 461,366.5ZM470,321.2 479,365.5 478,365.5 469,321.2ZM470,322.2 479,366.5 478,366.5 469,322.2ZM478.5,365 487.5,365 487.5,366 478.5,366ZM478.5,366 487.5,366 487.5,367 478.5,367ZM487.5,365 496.5,365 496.5,366 487.5,366ZM487.5,366 496.5,366 496.5,367 487.5,367ZM496.5,365 505.5,365 505.5,366 496.5,366ZM496.5,366 505.5,366 505.5,367 496.5,367ZM505.5,365 514.5,365 514.5,366 505.5,366ZM505.5,366 514.5,366 514.5,367 505.5,367ZM514.5,365 523.5,365 523.5,366 514.5,366ZM514.5,366 523.5,366 523.5,367 514.5,367ZM523.5,365 532.5,365 532.5,366 523.5,366ZM523.5,366 532.5,366 532.5,367 523.5,367ZM532.5,365 541.5,365 541.5,366 532.5,366ZM532.5,366 541.5,366 541.5,367 532.5,367ZM541.5,365 550.5,365 550.5,366 541.5,366ZM541.5,366 550.5,366 550.5,367 541.5,367ZM550.5,365 560.5,365 560.5,366 550.5,366ZM550.5,366 560.5,366 560.5,367 550.5,367ZM560.5,365 569.5,365 569.5,366 560.5,366ZM560.5,366 569.5,366 569.5,367 560.5,367ZM569.5,365 578.5,365 578.5,366 569.5,366ZM569.5,366 578.5,366 578.5,367 569.5,367ZM578.5,365 587.5,365 587.5,366 578.5,366ZM578.5,366 587.5,366 587.5,367 578.5,367ZM587.5,365 596.5,365 596.5,366 587.5,366ZM587.5,366 596.5,366 596.5,367 587.5,367ZM596.5,365 605.5,365 605.5,366 596.5,366ZM596.5,366 605.5,366 605.5,367 596.5,367ZM605,365.5 614,290 615,290 606,365.5ZM605,366.5 614,291 615,291 606,366.5ZM614.5,289.5 623.5,283.8 623.5,284.8 614.5,290.5ZM614.5,290.5 623.5,284.8 623.5,285.8 614.5,291.5ZM624,284.3 633,296 632,296 623,284.3ZM624,285.3 633,297 632,297 623,285.3ZM633,296 642,365.5 641,365.5 632,296ZM633,297 642,366.5 641,366.5 632,297ZM641,365.5 650,271.7 651,271.7 642,365.5ZM641,366.5 650,272.7 651,272.7 642,366.5ZM651,271.7 660,320.9 659,320.9 650,271.7ZM651,272.7 660,321.9 659,321.9 650,272.7ZM659,320.9 668,289.5 669,289.5 660,320.9ZM659,321.9 668,290.5 669,290.5 660,321.9ZM668.5,289 677.5,283.5 677.5,284.5 668.5,290ZM668.5,290 677.5,284.5 677.5,285.5 668.5,291ZM678,284 688,295.5 687,295.5 677,284ZM678,285 688,296.5 687,296.5 677,285ZM688,295.5 697,365.5 696,365.5 687,295.5ZM688,296.5 697,366.5 696,366.5 687,296.5ZM696.5,365 705.5,365 705.5,366 696.5,366ZM696.5,366 705.5,366 705.5,367 696.5,367ZM705,365.5 714,326.8 715,326.8 706,365.5ZM705,366.5 714,327.8 715,327.8 706,366.5ZM715,326.8 724,365.5 723,365.5 714,326.8ZM715,327.8 724,366.5 723,366.5 714,327.8ZM723,365.5 732,308.3 733,308.3 724,365.5ZM723,366.5 732,309.3 733,309.3 724,366.5ZM733,308.3 742,326.8 741,326.8 732,308.3ZM733,309.3 742,327.8 741,327.8 732,309.3ZM741.5,326.3 750.5,332.5 750.5,333.5 741.5,327.3ZM741.5,327.3 750.5,333.5 750.5,334.5 741.5,328.3ZM751,333 760,365.5 759,365.5 750,333ZM751,334 760,366.5 759,366.5 750,334ZM759.5,365 768.5,365 768.5,366 759.5,366ZM759.5,366 768.5,366 768.5,367 759.5,367ZM768,365.5 777,321.2 778,321.2 769,365.5ZM768,366.5 777,322.2 778,322.2 769,366.5ZM777.5,320.7 786.5,326.3 786.5,327.3 777.5,321.7ZM777.5,321.7 786.5,327.3 786.5,328.3 777.5,322.7ZM787,326.8 796,365.5 795,365.5 786,326.8ZM787,327.8 796,366.5 795,366.5 786,327.8ZM795.5,365 805.5,365 805.5,366 795.5,366ZM795.5,366 805.5,366 805.5,367 795.5,367ZM70,365 71,365 71,367 70,367ZM79,365 80,365 80,367 79,367ZM88,365 89,365 89,367 88,367ZM97,365 98,365 98,367 97,367ZM106,365 107,365 107,367 106,367ZM115,365 116,365 116,367 115,367ZM124,365 125,365 125,367 124,367ZM133,365 134,365 134,367 133,367ZM142,365 143,365 143,367 142,367ZM151,301.5 152,301.5 152,303.5 151,303.5ZM160,284.5 161,284.5 161,286.5 160,286.5ZM169,365 170,365 170,367 169,367ZM178,365 179,365 179,367 178,367ZM187,365 188,365 188,367 187,367ZM197,365 198,365 198,367 197,367ZM206,365 207,365 207,367 206,367ZM215,365 216,365 216,367 215,367ZM224,365 225,365 225,367 224,367ZM233,365 234,365 234,367 233,367ZM242,365 243,365 243,367 242,367ZM251,365 252,365 252,367 251,367ZM260,365 261,365 261,367 260,367ZM269,365 270,365 270,367 269,367ZM278,365 279,365 279,367 278,367ZM287,321 288,321 288,323 287,323ZM296,365 297,365 297,367 296,367ZM305,309 306,309 306,311 305,311ZM315,309 316,309 316,311 315,311ZM324,296 325,296 325,298 324,298ZM333,290 334,290 334,292 333,292ZM342,365 343,365 343,367 342,367ZM351,365 352,365 352,367 351,367ZM360,365 361,365 361,367 360,367ZM369,365 370,365 370,367 369,367ZM378,365 379,365 379,367 378,367ZM387,365 388,365 388,367 387,367ZM396,365 397,365 397,367 396,367ZM405,365 406,365 406,367 405,367ZM414,365 415,365 415,367 414,367ZM423,365 424,365 424,367 423,367ZM432,320.7 433,320.7 433,322.7 432,322.7ZM442,332.5 443,332.5 443,334.5 442,334.5ZM451,339 452,339 452,341 451,341ZM460,365 461,365 461,367 460,367ZM469,320.7 470,320.7 470,322.7 469,322.7ZM478,365 479,365 479,367 478,367ZM487,365 488,365 488,367 487,367ZM496,365 497,365 497,367 496,367ZM505,365 506,365 506,367 505,367ZM514,365 515,365 515,367 514,367ZM523,365 524,365 524,367 523,367ZM532,365 533,365 533,367 532,367ZM541,365 542,365 542,367 541,367ZM550,365 551,365 551,367 550,367ZM560,365 561,365 561,367 560,367ZM569,365 570,365 570,367 569,367ZM578,365 579,365 579,367 578,367ZM587,365 588,365 588,367 587,367ZM596,365 597,365 597,367 596,367ZM605,365 606,365 606,367 605,367ZM614,289.5 615,289.5 615,291.5 614,291.5ZM623,283.8 624,283.8 624,285.8 623,285.8ZM632,295.5 633,295.5 633,297.5 632,297.5ZM641,365 642,365 642,367 641,367ZM650,271.2 651,271.2 651,273.2 650,273.2ZM659,320.4 660,320.4 660,322.4 659,322.4ZM668,289 669,289 669,291 668,291ZM677,283.5 678,283.5 678,285.5 677,285.5ZM687,295 688,295 688,297 687,297ZM696,365 697,365 697,367 696,367ZM705,365 706,365 706,367 705,367ZM714,326.3 715,326.3 715,328.3 714,328.3ZM723,365 724,365 724,367 723,367ZM732,307.8 733,307.8 733,309.8 732,309.8ZM741,326.3 742,326.3 742,328.3 741,328.3ZM750,332.5 751,332.5 751,334.5 750,334.5ZM759,365 760,365 760,367 759,367ZM768,365 769,365 769,367 768,367ZM777,320.7 778,320.7 778,322.7 777,322.7ZM786,326.3 787,326.3 787,328.3 786,328.3ZM795,365 796,365 796,367 795,367ZM805,365 806,365 806,367 805,367Z" fill="#000000" shape-rendering="crispEdges"/>
<g shape-rendering="crispEdges">
<rect x="70" y="365" width="736" height="1" fill="#000000"/>
<rect x="70" y="366" width="736" height="1" fill="#ffff00"/>
</g>
<circle cx="414.5" cy="360.5" r="3.8" fill="#ffff00" stroke="#000" stroke-width="1"/>
<circle cx="560.5" cy="360.5" r="3.8" fill="#ffff00" stroke="#000" stroke-width="1"/>
<g shape-rendering="crispEdges">
<rect x="28" y="40" width="1" height="327" fill="#228b22"/>
<rect x="26" y="365" width="5" height="1" fill="#228b22"/>
<rect x="50" y="40" width="1" height="327" fill="#8c00d2"/>
<rect x="48" y="365" width="5" height="1" fill="#8c00d2"/>
<rect x="70" y="40" width="1" height="327" fill="#ff0000"/>
<rect x="68" y="365" width="5" height="1" fill="#ff0000"/>
<rect x="805" y="40" width="1" height="326" fill="#606060"/>
<rect x="803" y="365" width="5" height="1" fill="#606060"/>
<rect x="825" y="40" width="1" height="327" fill="#000000"/>
<rect x="823" y="365" width="5" height="1" fill="#000000"/>
<rect x="845" y="40" width="1" height="327" fill="#00bfff"/>
<rect x="843" y="365" width="5" height="1" fill="#00bfff"/>
<rect x="860" y="40" width="1" height="327" fill="#ffff00"/>
<rect x="858" y="365" width="5" height="1" fill="#ffff00"/>
<rect x="875" y="40" width="1" height="327" fill="#ff8000"/>
<rect x="873" y="365" width="5" height="1" fill="#ff8000"/>
<rect x="26" y="365" width="5" height="1" fill="#228b22"/>
<rect x="26" y="348" width="5" height="1" fill="#228b22"/>
<rect x="26" y="331" width="5" height="1" fill="#228b22"/>
<rect x="26" y="313" width="5" height="1" fill="#228b22"/>
<rect x="26" y="296" width="5" height="1" fill="#228b22"/>
<rect x="26" y="279" width="5" height="1" fill="#228b22"/>
<rect x="26" y="262" width="5" height="1" fill="#228b22"/>
<rect x="26" y="244" width="5" height="1" fill="#228b22"/>
<rect x="26" y="227" width="5" height="1" fill="#228b22"/>
<rect x="26" y="210" width="5" height="1" fill="#228b22"/>
<rect x="26" y="193" width="5" height="1" fill="#228b22"/>
<rect x="26" y="176" width="5" height="1" fill="#228b22"/>
<rect x="26" y="158" width="5" height="1" fill="#228b22"/>
<rect x="26" y="141" width="5" height="1" fill="#228b22"/>
<rect x="26" y="124" width="5" height="1" fill="#228b22"/>
<rect x="26" y="107" width="5" height="1" fill="#228b22"/>
<rect x="26" y="89" width="5" height="1" fill="#228b22"/>
<rect x="26" y="72" width="5" height="1" fill="#228b22"/>
<rect x="26" y="55" width="5" height="1" fill="#228b22"/>
<rect x="48" y="365" width="5" height="1" fill="#8c00d2"/>
<rect x="48" y="334" width="5" height="1" fill="#8c00d2"/>
<rect x="48" y="303" width="5" height="1" fill="#8c00d2"/>
<rect x="48" y="272" width="5" height="1" fill="#8c00d2"/>
<rect x="48" y="241" width="5" height="1" fill="#8c00d2"/>
<rect x="48" y="210" width="5" height="1" fill="#8c00d2"/>
<rect x="48" y="179" width="5" height="1" fill="#8c00d2"/>
<rect x="48" y="148" width="5" height="1" fill="#8c00d2"/>
<rect x="48" y="117" width="5" height="1" fill="#8c00d2"/>
<rect x="48" y="86" width="5" height="1" fill="#8c00d2"/>
<rect x="48" y="55" width="5" height="1" fill="#8c00d2"/>
<rect x="68" y="365" width="5" height="1" fill="#ff0000"/>
<rect x="68" y="345" width="5" height="1" fill="#ff0000"/>
<rect x="68" y="325" width="5" height="1" fill="#ff0000"/>
<rect x="68" y="305" width="5" height="1" fill="#ff0000"/>
<rect x="68" y="285" width="5" height="1" fill="#ff0000"/>
<rect x="68" y="265" width="5" height="1" fill="#ff0000"/>
<rect x="68" y="245" width="5" height="1" fill="#ff0000"/>
<rect x="68" y="225" width="5" height="1" fill="#ff0000"/>
<rect x="68" y="205" width="5" height="1" fill="#ff0000"/>
<rect x="68" y="185" width="5" height="1" fill="#ff0000"/>
<rect x="68" y="165" width="5" height="1" fill="#ff0000"/>
<rect x="68" y="145" width="5" height="1" fill="#ff0000"/>
<rect x="68" y="125" width="5" height="1" fill="#ff0000"/>
<rect x="68" y="105" width="5" height="1" fill="#ff0000"/>
<rect x="68" y="85" width="5" height="1" fill="#ff0000"/>
<rect x="68" y="65" width="5" height="1" fill="#ff0000"/>
<rect x="805" y="365" width="3" height="1" fill="#606060"/>
<rect x="805" y="326" width="3" height="1" fill="#606060"/>
<rect x="805" y="287" width="3" height="1" fill="#606060"/>
<rect x="805" y="248" width="3" height="1" fill="#606060"/>
<rect x="805" y="210" width="3" height="1" fill="#606060"/>
<rect x="805" y="171" width="3" height="1" fill="#606060"/>
<rect x="805" y="132" width="3" height="1" fill="#606060"/>
<rect x="805" y="93" width="3" height="1" fill="#606060"/>
<rect x="805" y="55" width="3" height="1" fill="#606060"/>
<rect x="823" y="365" width="5" height="1" fill="#000000"/>
<rect x="858" y="365" width="5" height="1" fill="#ffff00"/>
<rect x="823" y="303" width="5" height="1" fill="#000000"/>
<rect x="858" y="303" width="5" height="1" fill="#ffff00"/>
<rect x="823" y="241" width="5" height="1" fill="#000000"/>
<rect x="858" y="241" width="5" height="1" fill="#ffff00"/>
<rect x="823" y="179" width="5" height="1" fill="#000000"/>
<rect x="858" y="179" width="5" height="1" fill="#ffff00"/>
<rect x="823" y="117" width="5" height="1" fill="#000000"/>
<rect x="858" y="117" width="5" height="1" fill="#ffff00"/>
<rect x="823" y="55" width="5" height="1" fill="#000000"/>
<rect x="858" y="55" width="5" height="1" fill="#ffff00"/>
<rect x="843" y="55" width="5" height="1" fill="#00bfff"/>
<rect x="873" y="365" width="5" height="1" fill="#ff8000"/>
<rect x="873" y="350" width="5" height="1" fill="#ff8000"/>
<rect x="873" y="334" width="5" height="1" fill="#ff8000"/>
<rect x="873" y="318" width="5" height="1" fill="#ff8000"/>
<rect x="873" y="303" width="5" height="1" fill="#ff8000"/>
<rect x="873" y="288" width="5" height="1" fill="#ff8000"/>
<rect x="873" y="272" width="5" height="1" fill="#ff8000"/>
<rect x="873" y="256" width="5" height="1" fill="#ff8000"/>
<rect x="873" y="241" width="5" height="1" fill="#ff8000"/>
<rect x="873" y="226" width="5" height="1" fill="#ff8000"/>
<rect x="873" y="210" width="5" height="1" fill="#ff8000"/>
<rect x="70" y="367" width="1" height="1" fill="#000000"/>
<rect x="88" y="367" width="1" height="1" fill="#000000"/>
<rect x="106" y="367" width="1" height="1" fill="#000000"/>
<rect x="124" y="367" width="1" height="1" fill="#000000"/>
<rect x="142" y="367" width="1" height="1" fill="#000000"/>
<rect x="160" y="367" width="1" height="1" fill="#000000"/>
<rect x="178" y="367" width="1" height="1" fill="#000000"/>
<rect x="197" y="367" width="1" height="1" fill="#000000"/>
<rect x="215" y="367" width="1" height="1" fill="#000000"/>
<rect x="233" y="367" width="1" height="1" fill="#000000"/>
<rect x="251" y="367" width="1" height="1" fill="#000000"/>
<rect x="269" y="367" width="1" height="1" fill="#000000"/>
<rect x="287" y="367" width="1" height="1" fill="#000000"/>
<rect x="305" y="367" width="1" height="1" fill="#000000"/>
<rect x="324" y="367" width="1" height="1" fill="#000000"/>
<rect x="342" y="367" width="1" height="1" fill="#000000"/>
<rect x="360" y="367" width="1" height="1" fill="#000000"/>
<rect x="378" y="367" width="1" height="1" fill="#000000"/>
<rect x="396" y="367" width="1" height="1" fill="#000000"/>
<rect x="414" y="367" width="1" height="1" fill="#000000"/>
<rect x="432" y="367" width="1" height="1" fill="#000000"/>
<rect x="451" y="367" width="1" height="1" fill="#000000"/>
<rect x="469" y="367" width="1" height="1" fill="#000000"/>
<rect x="487" y="367" width="1" height="1" fill="#000000"/>
<rect x="505" y="367" width="1" height="1" fill="#000000"/>
<rect x="523" y="367" width="1" height="1" fill="#000000"/>
<rect x="541" y="367" width="1" height="1" fill="#000000"/>
<rect x="560" y="367" width="1" height="1" fill="#000000"/>
<rect x="578" y="367" width="1" height="1" fill="#000000"/>
<rect x="596" y="367" width="1" height="1" fill="#000000"/>
<rect x="614" y="367" width="1" height="1" fill="#000000"/>
<rect x="632" y="367" width="1" height="1" fill="#000000"/>
<rect x="650" y="367" width="1" height="1" fill="#000000"/>
<rect x="668" y="367" width="1" height="1" fill="#000000"/>
<rect x="687" y="367" width="1" height="1" fill="#000000"/>
<rect x="705" y="367" width="1" height="1" fill="#000000"/>
<rect x="723" y="367" width="1" height="1" fill="#000000"/>
<rect x="741" y="367" width="1" height="1" fill="#000000"/>
<rect x="759" y="367" width="1" height="1" fill="#000000"/>
<rect x="777" y="367" width="1" height="1" fill="#000000"/>
<rect x="795" y="367" width="1" height="1" fill="#000000"/>
<rect x="69" y="262" width="4" height="4" fill="#606060"/>
<rect x="0" y="0" width="900" height="1" fill="#000000"/>
<rect x="0" y="399" width="900" height="1" fill="#000000"/>
<rect x="0" y="0" width="1" height="400" fill="#000000"/>
<rect x="899" y="0" width="1" height="400" fill="#000000"/>
</g>
<g font-family='"DejaVu Sans Mono","Liberation Mono",monospace' font-size="7.9" letter-spacing="0.244" stroke-width="0.3">
<g shape-rendering="crispEdges">
<rect x="10" y="9" width="11" height="2" fill="#ff0000"/>
<rect x="70" y="9" width="11" height="2" fill="#ff00ff"/>
<rect x="175" y="9" width="11" height="2" fill="#8c00d2"/>
<rect x="235" y="9" width="11" height="2" fill="#228b22"/>
<rect x="280" y="9" width="11" height="2" fill="#00bfff"/>
<rect x="335" y="9" width="11" height="2" fill="#000000"/>
<rect x="430" y="9" width="11" height="2" fill="#0000cc"/>
<rect x="510" y="9" width="11" height="2" fill="#606060"/>
<rect x="585" y="9" width="11" height="2" fill="#ffff00"/>
<rect x="650" y="9" width="11" height="2" fill="#ff8000"/>
</g>
<text x="25" y="12" fill="#000000" stroke="#000000">Teplota</text>
<text x="85" y="12" fill="#000000" stroke="#000000">Přízemní teplota</text>
<text x="190" y="12" fill="#000000" stroke="#000000">Vlhkost</text>
<text x="250" y="12" fill="#000000" stroke="#000000">Tlak</text>
<text x="295" y="12" fill="#000000" stroke="#000000">Srážky</text>
<text x="350" y="12" fill="#000000" stroke="#000000">Rychlost větru</text>
<text x="445" y="12" fill="#000000" stroke="#000000">Náraz větru</text>
<text x="525" y="12" fill="#000000" stroke="#000000">Směr větru</text>
<text x="600" y="12" fill="#ffff00" stroke="#ffff00">UV index</text>
<text x="665" y="12" fill="#ff8000" stroke="#ff8000">Solar</text>
<text x="80" y="27" xml:space="preserve"><tspan fill="#000" stroke="#000">max </tspan><tspan fill="#ff0000" stroke="#ff0000">22.0°C  89%  1026.2hPa</tspan><tspan fill="#00bfff" stroke="#00bfff">   0.0mm</tspan></text>
<text x="80" y="37" xml:space="preserve"><tspan fill="#000" stroke="#000">min </tspan><tspan fill="#0000cc" stroke="#0000cc"> 6.5°C  39%  1022.2hPa</tspan></text>
<text x="80" y="47" xml:space="preserve" fill="#000" stroke="#000">avg 12.6°C</text>
<text x="495" y="27" xml:space="preserve" fill="#000" stroke="#000">WS:1.5m/s     WG:1.5m/s</text>
<text x="495" y="37" xml:space="preserve" fill="#000" stroke="#000">Východ:06:18  Západ:19:24</text>
<text x="5" y="47" fill="#228b22" stroke="#228b22">hPa</text>
<text x="40" y="47" fill="#8c00d2" stroke="#8c00d2">%</text>
<text x="57" y="47" fill="#ff0000" stroke="#ff0000">°C</text>
<text x="808" y="45" fill="#606060" stroke="#606060">°</text>
<text x="828" y="47" fill="#000000" stroke="#000000">m/s</text>
<text x="848" y="47" fill="#00bfff" stroke="#00bfff">mm</text>
<text x="878" y="47" fill="#ff8000" stroke="#ff8000">W</text>
<text x="23" y="368" fill="#228b22" stroke="#228b22" text-anchor="end">1015</text>
<text x="23" y="351" fill="#228b22" stroke="#228b22" text-anchor="end">1016</text>
<text x="23" y="334" fill="#228b22" stroke="#228b22" text-anchor="end">1017</text>
<text x="23" y="316" fill="#228b22" stroke="#228b22" text-anchor="end">1018</text>
<text x="23" y="299" fill="#228b22" stroke="#228b22" text-anchor="end">1019</text>
<text x="23" y="282" fill="#228b22" stroke="#228b22" text-anchor="end">1020</text>
<text x="23" y="265" fill="#228b22" stroke="#228b22" text-anchor="end">1021</text>
<text x="23" y="247" fill="#228b22" stroke="#228b22" text-anchor="end">1022</text>
<text x="23" y="230" fill="#228b22" stroke="#228b22" text-anchor="end">1023</text>
<text x="23" y="213" fill="#228b22" stroke="#228b22" text-anchor="end">1024</text>
<text x="23" y="196" fill="#228b22" stroke="#228b22" text-anchor="end">1025</text>
<text x="23" y="179" fill="#228b22" stroke="#228b22" text-anchor="end">1026</text>
<text x="23" y="161" fill="#228b22" stroke="#228b22" text-anchor="end">1027</text>
<text x="23" y="144" fill="#228b22" stroke="#228b22" text-anchor="end">1028</text>
<text x="23" y="127" fill="#228b22" stroke="#228b22" text-anchor="end">1029</text>
<text x="23" y="110" fill="#228b22" stroke="#228b22" text-anchor="end">1030</text>
<text x="23" y="92" fill="#228b22" stroke="#228b22" text-anchor="end">1031</text>
<text x="23" y="75" fill="#228b22" stroke="#228b22" text-anchor="end">1032</text>
<text x="23" y="58" fill="#228b22" stroke="#228b22" text-anchor="end">1033</text>
<text x="45" y="368" fill="#8c00d2" stroke="#8c00d2" text-anchor="end">0</text>
<text x="45" y="337" fill="#8c00d2" stroke="#8c00d2" text-anchor="end">10</text>
<text x="45" y="306" fill="#8c00d2" stroke="#8c00d2" text-anchor="end">20</text>
<text x="45" y="275" fill="#8c00d2" stroke="#8c00d2" text-anchor="end">30</text>
<text x="45" y="244" fill="#8c00d2" stroke="#8c00d2" text-anchor="end">40</text>
<text x="45" y="213" fill="#8c00d2" stroke="#8c00d2" text-anchor="end">50</text>
<text x="45" y="182" fill="#8c00d2" stroke="#8c00d2" text-anchor="end">60</text>
<text x="45" y="151" fill="#8c00d2" stroke="#8c00d2" text-anchor="end">70</text>
<text x="45" y="120" fill="#8c00d2" stroke="#8c00d2" text-anchor="end">80</text>
<text x="45" y="89" fill="#8c00d2" stroke="#8c00d2" text-anchor="end">90</text>
<text x="45" y="58" fill="#8c00d2" stroke="#8c00d2" text-anchor="end">100</text>
<text x="67" y="368" fill="#ff0000" stroke="#ff0000" text-anchor="end">-4</text>
<text x="67" y="348" fill="#ff0000" stroke="#ff0000" text-anchor="end">-2</text>
<text x="67" y="328" fill="#ff0000" stroke="#ff0000" text-anchor="end">0</text>
<text x="67" y="308" fill="#ff0000" stroke="#ff0000" text-anchor="end">2</text>
<text x="67" y="288" fill="#ff0000" stroke="#ff0000" text-anchor="end">4</text>
<text x="67" y="268" fill="#ff0000" stroke="#ff0000" text-anchor="end">6</text>
<text x="67" y="248" fill="#ff0000" stroke="#ff0000" text-anchor="end">8</text>
<text x="67" y="228" fill="#ff0000" stroke="#ff0000" text-anchor="end">10</text>
<text x="67" y="208" fill="#ff0000" stroke="#ff0000" text-anchor="end">12</text>
<text x="67" y="188" fill="#ff0000" stroke="#ff0000" text-anchor="end">14</text>
<text x="67" y="168" fill="#ff0000" stroke="#ff0000" text-anchor="end">16</text>
<text x="67" y="148" fill="#ff0000" stroke="#ff0000" text-anchor="end">18</text>
<text x="67" y="128" fill="#ff0000" stroke="#ff0000" text-anchor="end">20</text>
<text x="67" y="108" fill="#ff0000" stroke="#ff0000" text-anchor="end">22</text>
<text x="67" y="88" fill="#ff0000" stroke="#ff0000" text-anchor="end">24</text>
<text x="67" y="68" fill="#ff0000" stroke="#ff0000" text-anchor="end">26</text>
<text x="808" y="329" fill="#606060" stroke="#606060">45</text>
<text x="818" y="337" fill="#606060" stroke="#606060" text-anchor="end">NE</text>
<text x="808" y="290" fill="#606060" stroke="#606060">90</text>
<text x="818" y="298" fill="#606060" stroke="#606060" text-anchor="end">E</text>
<text x="808" y="251" fill="#606060" stroke="#606060">135</text>
<text x="818" y="259" fill="#606060" stroke="#606060" text-anchor="end">SE</text>
<text x="808" y="213" fill="#606060" stroke="#606060">180</text>
<text x="818" y="221" fill="#606060" stroke="#606060" text-anchor="end">S</text>
<text x="808" y="174" fill="#606060" stroke="#606060">225</text>
<text x="818" y="182" fill="#606060" stroke="#606060" text-anchor="end">SW</text>
<text x="808" y="135" fill="#606060" stroke="#606060">270</text>
<text x="818" y="143" fill="#606060" stroke="#606060" text-anchor="end">W</text>
<text x="808" y="96" fill="#606060" stroke="#606060">315</text>
<text x="818" y="104" fill="#606060" stroke="#606060" text-anchor="end">NW</text>
<text x="808" y="58" fill="#606060" stroke="#606060">360</text>
<text x="818" y="66" fill="#606060" stroke="#606060" text-anchor="end">N</text>
<text x="828" y="368" fill="#000000" stroke="#000000">0</text>
<text x="863" y="368" fill="#ffff00" stroke="#ffff00">0</text>
<text x="828" y="306" fill="#000000" stroke="#000000">1</text>
<text x="863" y="306" fill="#ffff00" stroke="#ffff00">1</text>
<text x="828" y="244" fill="#000000" stroke="#000000">2</text>
<text x="863" y="244" fill="#ffff00" stroke="#ffff00">2</text>
<text x="828" y="182" fill="#000000" stroke="#000000">3</text>
<text x="863" y="182" fill="#ffff00" stroke="#ffff00">3</text>
<text x="828" y="120" fill="#000000" stroke="#000000">4</text>
<text x="863" y="120" fill="#ffff00" stroke="#ffff00">4</text>
<text x="828" y="58" fill="#000000" stroke="#000000">5</text>
<text x="863" y="58" fill="#ffff00" stroke="#ffff00">5</text>
<text x="848" y="58" fill="#00bfff" stroke="#00bfff">1</text>
<text x="848" y="368" fill="#00bfff" stroke="#00bfff">0</text>
<text x="879" y="368" fill="#ff8000" stroke="#ff8000">0</text>
<text x="879" y="353" fill="#ff8000" stroke="#ff8000">150</text>
<text x="879" y="337" fill="#ff8000" stroke="#ff8000">300</text>
<text x="879" y="321" fill="#ff8000" stroke="#ff8000">450</text>
<text x="879" y="306" fill="#ff8000" stroke="#ff8000">600</text>
<text x="879" y="291" fill="#ff8000" stroke="#ff8000">750</text>
<text x="879" y="275" fill="#ff8000" stroke="#ff8000">900</text>
<text x="879" y="259" fill="#ff8000" stroke="#ff8000">1050</text>
<text x="879" y="244" fill="#ff8000" stroke="#ff8000">1200</text>
<text x="879" y="229" fill="#ff8000" stroke="#ff8000">1350</text>
<text x="879" y="213" fill="#ff8000" stroke="#ff8000">1500</text>
<text x="815" y="377" fill="#000000" stroke="#000000">čas</text>
<text transform="translate(72.7,397) rotate(-90)" fill="#000" stroke="#000">00:00</text>
<text transform="translate(90.7,397) rotate(-90)" fill="#000" stroke="#000">00:20</text>
<text transform="translate(108.7,397) rotate(-90)" fill="#000" stroke="#000">00:40</text>
<text transform="translate(126.7,397) rotate(-90)" fill="#000" stroke="#000">01:00</text>
<text transform="translate(144.7,397) rotate(-90)" fill="#000" stroke="#000">01:20</text>
<text transform="translate(162.7,397) rotate(-90)" fill="#000" stroke="#000">01:40</text>
<text transform="translate(180.7,397) rotate(-90)" fill="#000" stroke="#000">02:00</text>
<text transform="translate(199.7,397) rotate(-90)" fill="#000" stroke="#000">02:20</text>
<text transform="translate(217.7,397) rotate(-90)" fill="#000" stroke="#000">02:40</text>
<text transform="translate(235.7,397) rotate(-90)" fill="#000" stroke="#000">03:00</text>
<text transform="translate(253.7,397) rotate(-90)" fill="#000" stroke="#000">03:20</text>
<text transform="translate(271.7,397) rotate(-90)" fill="#000" stroke="#000">03:40</text>
<text transform="translate(289.7,397) rotate(-90)" fill="#000" stroke="#000">04:00</text>
<text transform="translate(307.7,397) rotate(-90)" fill="#000" stroke="#000">04:20</text>
<text transform="translate(326.7,397) rotate(-90)" fill="#000" stroke="#000">04:40</text>
<text transform="translate(344.7,397) rotate(-90)" fill="#000" stroke="#000">05:00</text>
<text transform="translate(362.7,397) rotate(-90)" fill="#000" stroke="#000">05:20</text>
<text transform="translate(380.7,397) rotate(-90)" fill="#000" stroke="#000">05:40</text>
<text transform="translate(398.7,397) rotate(-90)" fill="#000" stroke="#000">06:00</text>
<text transform="translate(416.7,397) rotate(-90)" fill="#000" stroke="#000">06:20</text>
<text transform="translate(434.7,397) rotate(-90)" fill="#000" stroke="#000">16:50</text>
<text transform="translate(453.7,397) rotate(-90)" fill="#000" stroke="#000">17:20</text>
<text transform="translate(471.7,397) rotate(-90)" fill="#000" stroke="#000">17:40</text>
<text transform="translate(489.7,397) rotate(-90)" fill="#000" stroke="#000">18:00</text>
<text transform="translate(507.7,397) rotate(-90)" fill="#000" stroke="#000">18:20</text>
<text transform="translate(525.7,397) rotate(-90)" fill="#000" stroke="#000">18:40</text>
<text transform="translate(543.7,397) rotate(-90)" fill="#000" stroke="#000">19:00</text>
<text transform="translate(562.7,397) rotate(-90)" fill="#000" stroke="#000">19:20</text>
<text transform="translate(580.7,397) rotate(-90)" fill="#000" stroke="#000">19:40</text>
<text transform="translate(598.7,397) rotate(-90)" fill="#000" stroke="#000">20:00</text>
<text transform="translate(616.7,397) rotate(-90)" fill="#000" stroke="#000">20:20</text>
<text transform="translate(634.7,397) rotate(-90)" fill="#000" stroke="#000">20:40</text>
<text transform="translate(652.7,397) rotate(-90)" fill="#000" stroke="#000">21:00</text>
<text transform="translate(670.7,397) rotate(-90)" fill="#000" stroke="#000">21:20</text>
<text transform="translate(689.7,397) rotate(-90)" fill="#000" stroke="#000">21:40</text>
<text transform="translate(707.7,397) rotate(-90)" fill="#000" stroke="#000">22:00</text>
<text transform="translate(725.7,397) rotate(-90)" fill="#000" stroke="#000">22:20</text>
<text transform="translate(743.7,397) rotate(-90)" fill="#000" stroke="#000">22:40</text>
<text transform="translate(761.7,397) rotate(-90)" fill="#000" stroke="#000">23:00</text>
<text transform="translate(779.7,397) rotate(-90)" fill="#000" stroke="#000">23:20</text>
<text transform="translate(797.7,397) rotate(-90)" fill="#000" stroke="#000">23:40</text>
</g>
<text x="418" y="51.2" font-family='"DejaVu Sans Mono","Liberation Mono",monospace' font-weight="bold" font-size="11" letter-spacing="0.38" fill="#000" stroke="#000" stroke-width="0.45">7.09.2009</text>
</svg>
</body></html>
